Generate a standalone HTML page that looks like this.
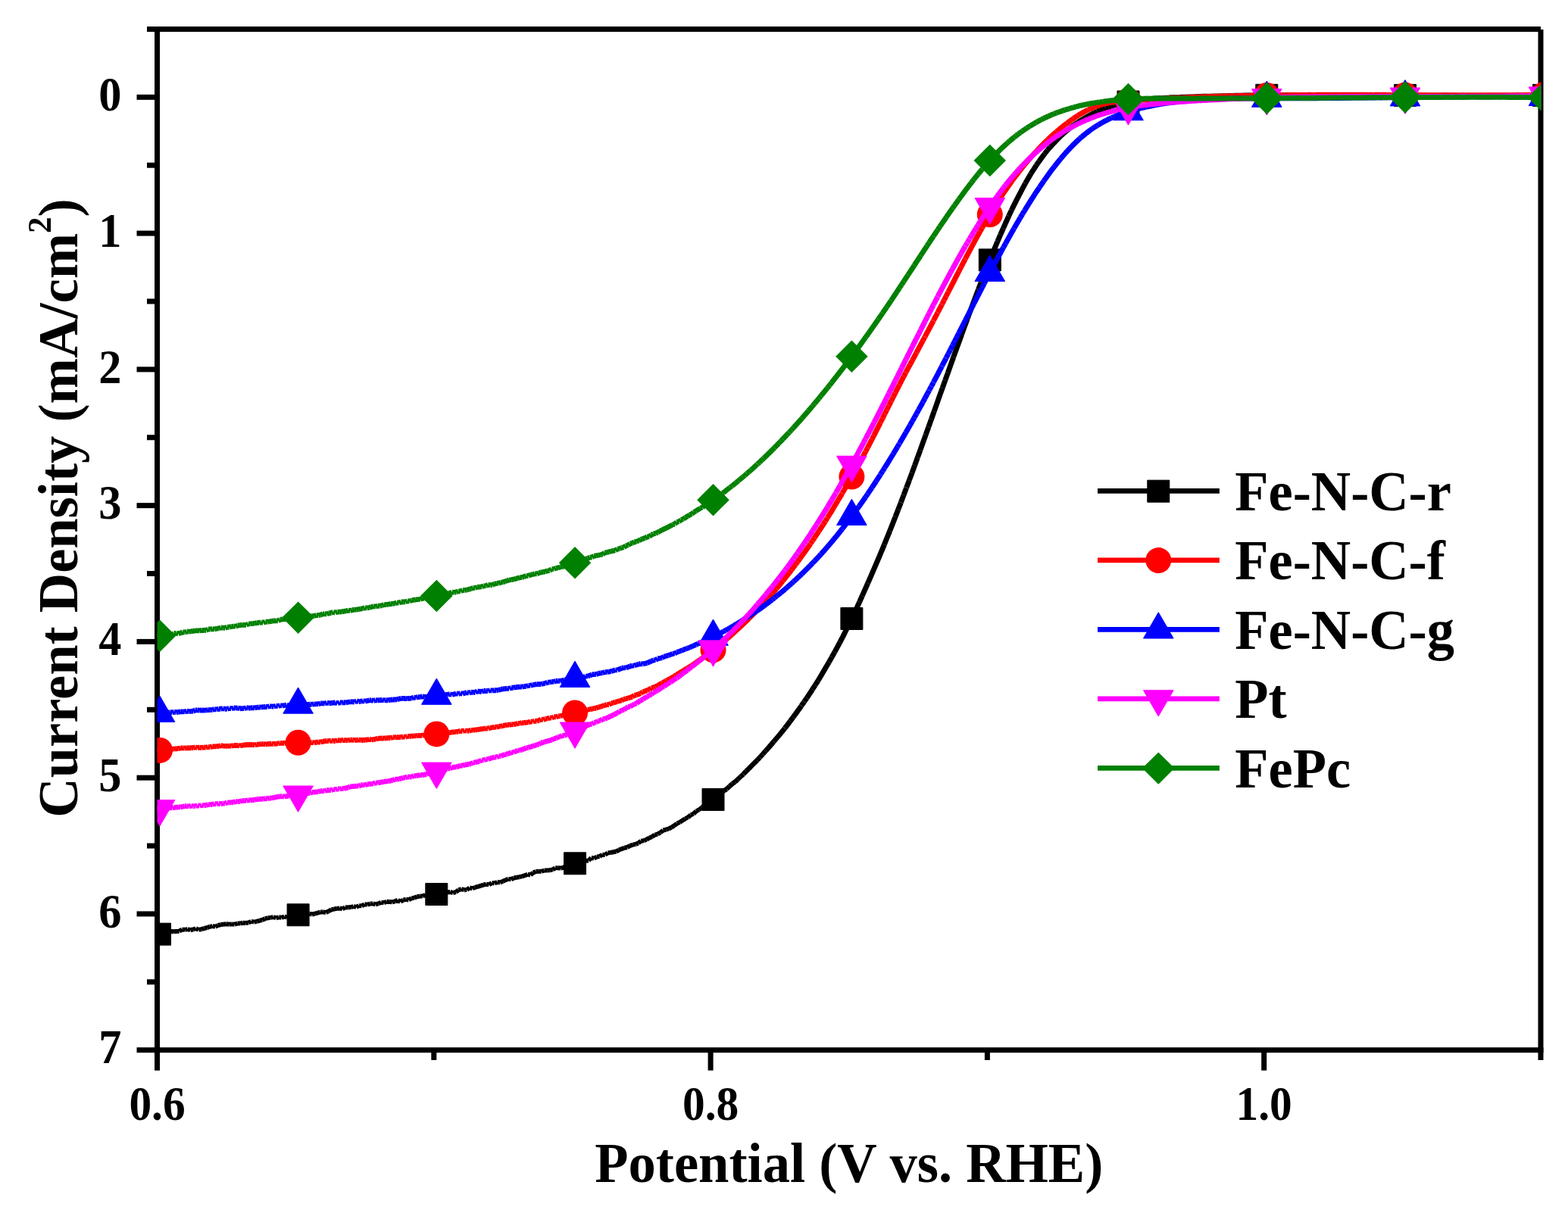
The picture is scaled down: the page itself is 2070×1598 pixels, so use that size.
<!DOCTYPE html>
<html><head><meta charset="utf-8"><title>LSV curves</title>
<style>html,body{margin:0;padding:0;background:#fff;width:2070px;height:1598px;overflow:hidden;}svg{display:block;position:absolute;left:0;top:0;}</style></head>
<body>
<svg width="2070" height="1598" viewBox="0 0 2070 1598" role="img" aria-label="Linear sweep voltammetry curves: current density versus potential">
<rect width="2070" height="1598" fill="#fff"/>
<defs><clipPath id="plot"><rect x="207.5" y="38.5" width="1827.1" height="1348.2"/></clipPath></defs>
<g stroke="#000" stroke-width="7" fill="none" stroke-linecap="butt">
<line x1="207.5" y1="35.0" x2="207.5" y2="1413.7"/>
<line x1="180.5" y1="1386.7" x2="2037.5" y2="1386.7"/>
<line x1="194" y1="38.5" x2="2034.0" y2="38.5"/>
<line x1="2034.0" y1="39.0" x2="2034.0" y2="1400"/>
<line x1="180.5" y1="128.35" x2="207.5" y2="128.35"/>
<line x1="194" y1="38.47" x2="207.5" y2="38.47"/>
<line x1="180.5" y1="308.11" x2="207.5" y2="308.11"/>
<line x1="194" y1="218.23" x2="207.5" y2="218.23"/>
<line x1="180.5" y1="487.88" x2="207.5" y2="487.88"/>
<line x1="194" y1="398.00" x2="207.5" y2="398.00"/>
<line x1="180.5" y1="667.64" x2="207.5" y2="667.64"/>
<line x1="194" y1="577.76" x2="207.5" y2="577.76"/>
<line x1="180.5" y1="847.41" x2="207.5" y2="847.41"/>
<line x1="194" y1="757.53" x2="207.5" y2="757.53"/>
<line x1="180.5" y1="1027.17" x2="207.5" y2="1027.17"/>
<line x1="194" y1="937.29" x2="207.5" y2="937.29"/>
<line x1="180.5" y1="1206.94" x2="207.5" y2="1206.94"/>
<line x1="194" y1="1117.05" x2="207.5" y2="1117.05"/>
<line x1="194" y1="1296.82" x2="207.5" y2="1296.82"/>
<line x1="938.10" y1="1386.7" x2="938.10" y2="1413.7"/>
<line x1="1668.70" y1="1386.7" x2="1668.70" y2="1413.7"/>
<line x1="572.80" y1="1386.7" x2="572.80" y2="1400"/>
<line x1="1303.40" y1="1386.7" x2="1303.40" y2="1400"/>
</g>
<g clip-path="url(#plot)">
<path d="M203.89 1233.81L207.46 1234.06M207.54 1234.07L211.11 1234.23M211.19 1234.21L214.76 1232.23M214.84 1232.21L218.41 1231.8M218.49 1231.8L222.06 1231.58M222.14 1231.57L225.71 1230.07M225.79 1230.06L229.36 1230.24M229.44 1230.24L233.01 1230.01M233.09 1230L236.66 1229.75M236.73 1229.73L240.32 1227.73M240.39 1227.71L243.96 1227.83M244.04 1227.82L247.61 1227.1M247.69 1227.11L251.26 1228.26M251.34 1228.26L254.91 1227.48M254.99 1227.46L258.56 1226.22M258.64 1226.22L262.21 1227.86M262.29 1227.87L265.86 1227.24M265.94 1227.22L269.51 1226.06M269.59 1226.04L273.16 1225.24M273.24 1225.22L276.81 1223.94M276.89 1223.92L280.46 1223.16M280.54 1223.16L284.11 1223.79M284.19 1223.78L287.76 1222.13M287.84 1222.1L291.41 1221.1M291.49 1221.09L295.06 1220.75M295.14 1220.74L298.71 1220.35M298.79 1220.35L302.36 1220.71M302.44 1220.71L306.01 1220.37M306.09 1220.37L309.66 1220.7M309.74 1220.69L313.31 1219.6M313.39 1219.59L316.96 1219.58M317.04 1219.57L320.61 1218.79M320.69 1218.79L324.26 1218.94M324.34 1218.93L327.91 1218.43M327.99 1218.41L331.56 1216.93M331.64 1216.93L335.21 1217.65M335.29 1217.65L338.86 1216.98M338.94 1216.96L342.51 1215.79M342.59 1215.77L346.16 1215M346.24 1214.97L349.81 1213.2M349.89 1213.17L353.46 1212.32M353.54 1212.3L357.11 1211.94M357.19 1211.93L360.76 1211.08M360.84 1211.08L364.41 1212.27M364.49 1212.27L368.06 1211.3M368.14 1211.29L371.71 1211.89M371.79 1211.89L375.36 1210.55M375.44 1210.54L379.01 1211.45M379.09 1211.45L382.66 1211.2M382.73 1211.18L386.32 1208.62M386.39 1208.6L389.96 1208.99M390.04 1209L393.61 1209.77M393.69 1209.77L397.26 1208.22M397.34 1208.21L400.91 1209.41M400.99 1209.4L404.56 1207.55M404.64 1207.52L408.21 1206.67M408.29 1206.67L411.86 1207.47M411.94 1207.47L415.51 1206.78M415.59 1206.76L419.16 1205.59M419.24 1205.57L422.81 1204.52M422.89 1204.51L426.46 1204.56M426.54 1204.56L430.11 1205.07M430.19 1205.06L433.76 1203.47M433.84 1203.44L437.41 1201.47M437.49 1201.44L441.06 1200.55M441.14 1200.54L444.71 1199.9M444.79 1199.89L448.36 1199.48M448.44 1199.48L452.01 1200.47M452.08 1200.46L455.67 1198.3M455.74 1198.28L459.31 1198.5M459.39 1198.5L462.96 1198.09M463.04 1198.07L466.61 1197.08M466.69 1197.07L470.26 1197.92M470.34 1197.91L473.91 1196.15M473.99 1196.14L477.56 1196.36M477.63 1196.34L481.22 1194.35M481.29 1194.34L484.86 1194.72M484.94 1194.71L488.51 1193.61M488.59 1193.59L492.16 1193.42M492.24 1193.43L495.81 1194.48M495.89 1194.48L499.46 1193.42M499.54 1193.39L503.11 1191.69M503.19 1191.68L506.76 1192.3M506.84 1192.3L510.41 1190.78M510.49 1190.77L514.06 1190.95M514.14 1190.95L517.71 1191.32M517.79 1191.31L521.36 1190.27M521.44 1190.25L525.01 1188.76M525.08 1188.76L528.67 1190.76M528.73 1190.76L532.32 1188.59M532.39 1188.56L535.96 1187.73M536.04 1187.73L539.61 1188.49M539.68 1188.48L543.27 1186.46M543.34 1186.43L546.91 1185.67M546.99 1185.64L550.56 1184.29M550.64 1184.27L554.21 1183.61M554.29 1183.6L557.86 1183.6M557.94 1183.58L561.51 1181.88M561.59 1181.87L565.16 1181.86M565.24 1181.86L568.81 1181.03M568.89 1181.02L572.46 1181.34M572.54 1181.35L576.11 1182.15M576.19 1182.14L579.76 1180.3M579.84 1180.28L583.41 1180.2M583.49 1180.2L587.06 1180.52M587.13 1180.5L590.72 1178.43M590.79 1178.4L594.36 1177.92M594.44 1177.92L598.01 1179.07M598.09 1179.07L601.66 1178.12M601.73 1178.09L605.32 1175.39M605.39 1175.35L608.96 1174.12M609.04 1174.12L612.61 1175.22M612.69 1175.23L616.26 1175.1M616.33 1175.08L619.92 1172.35M619.99 1172.33L623.56 1173.29M623.64 1173.29L627.21 1172.01M627.29 1171.98L630.86 1170.89M630.94 1170.87L634.51 1169.86M634.59 1169.83L638.16 1168.67M638.24 1168.65L641.81 1167.77M641.89 1167.77L645.46 1168.42M645.53 1168.41L649.12 1165.92M649.19 1165.91L652.76 1166.58M652.84 1166.57L656.41 1164.99M656.49 1164.98L660.06 1165.4M660.14 1165.39L663.71 1163.92M663.79 1163.89L667.36 1162.21M667.44 1162.18L671.01 1160.76M671.09 1160.75L674.66 1161.29M674.74 1161.28L678.31 1159.49M678.39 1159.47L681.96 1158.71M682.04 1158.7L685.61 1158.2M685.69 1158.18L689.26 1157.35M689.34 1157.33L692.91 1156.11M692.99 1156.08L696.56 1154.71M696.64 1154.7L700.21 1155.45M700.28 1155.43L703.87 1152.57M703.94 1152.53L707.51 1150.96M707.59 1150.94L711.16 1150.65M711.24 1150.65L714.81 1150.75M714.89 1150.74L718.46 1149.61M718.54 1149.6L722.11 1149.6M722.19 1149.6L725.76 1149.3M725.84 1149.28L729.41 1148.33M729.48 1148.3L733.07 1146.27M733.14 1146.25L736.71 1146.27M736.79 1146.27L740.36 1146.55M740.44 1146.55L744.01 1145.71M744.08 1145.68L747.67 1143.5M747.74 1143.47L751.31 1142.38M751.39 1142.36L754.96 1141.37M755.04 1141.34L758.61 1139.44M758.69 1139.41L762.26 1138.5M762.34 1138.48L765.91 1137.47M765.99 1137.46L769.56 1138.21M769.64 1138.2L773.21 1136.83M773.29 1136.81L776.86 1136.46M776.93 1136.43L780.52 1133.05M780.59 1133.03L784.16 1133.56M784.24 1133.54L787.81 1131.68M787.89 1131.66L791.46 1131.02M791.53 1131L795.12 1128.74M795.19 1128.72L798.76 1128.89M798.83 1128.87L802.42 1126.38M802.49 1126.35L806.06 1125.99M806.14 1125.98L809.71 1125.28M809.79 1125.27L813.36 1124.5M813.44 1124.47L817.01 1122.6M817.09 1122.57L820.66 1121.09M820.74 1121.06L824.31 1119.77M824.39 1119.75L827.96 1118.96M828.04 1118.93L831.61 1116.99M831.69 1116.95L835.26 1115.65M835.34 1115.63L838.91 1114.96M838.99 1114.93L842.56 1113.4M842.63 1113.36L846.22 1110.8M846.29 1110.77L849.86 1110.19M849.94 1110.17L853.51 1108.76M853.58 1108.72L857.17 1106.67M857.24 1106.64L860.81 1104.99M860.88 1104.96L864.47 1102.6M864.54 1102.56L868.11 1101.51M868.19 1101.48L871.76 1099.53M871.83 1099.48L875.42 1096.57M875.49 1096.54L879.06 1095.71M879.14 1095.69L882.71 1094.48M882.79 1094.45L886.36 1092.71M886.43 1092.68L890.02 1090.41M890.08 1090.36L893.67 1087.57M893.74 1087.53L897.31 1086.06M897.38 1086.02L900.97 1083.61M901.03 1083.57L904.62 1081.18M904.69 1081.14L908.26 1079.4M908.33 1079.36L911.92 1076.33M911.99 1076.29L915.56 1074.82M915.63 1074.78L919.22 1071.18M919.29 1071.14L922.86 1069.42M922.93 1069.38L926.52 1066.61" fill="none" stroke="#000000" stroke-width="6" stroke-linecap="butt"/>
<path d="M926.58 1066.56L930.17 1063.52M930.24 1063.47L933.81 1061.54M933.88 1061.5L937.47 1058.81M937.53 1058.77L941.12 1056.25M941.18 1056.2L944.77 1053.42M944.83 1053.37L948.42 1050.03M948.48 1049.98L952.07 1046.96M952.13 1046.91L955.72 1044.44" fill="none" stroke="#000000" stroke-width="6.2" stroke-linecap="butt"/>
<path d="M955.78 1044.39L959.37 1042.05M959.43 1042L963.02 1038.53M963.08 1038.47L966.67 1035.26M966.73 1035.21L970.32 1032.64M970.38 1032.59L973.97 1029.28M974.03 1029.22L977.62 1025.78M977.68 1025.72L981.27 1022.53" fill="none" stroke="#000000" stroke-width="6.4" stroke-linecap="butt"/>
<path d="M981.33 1022.48L984.92 1018.58M984.98 1018.52L988.57 1015.18M988.63 1015.12L992.22 1011.3M992.28 1011.24L995.87 1007.71M995.93 1007.65L999.52 1004.05M999.58 1003.99L1003.17 1000.2M1003.23 1000.14L1006.82 996.17M1006.88 996.11L1010.47 992.02" fill="none" stroke="#000000" stroke-width="6.6" stroke-linecap="butt"/>
<path d="M1010.53 991.96L1014.12 988.01M1014.18 987.95L1017.77 983.76M1017.83 983.7L1021.42 979.46M1021.48 979.4L1025.07 975.15M1025.13 975.09L1028.72 970.87M1028.78 970.81L1032.37 966.37M1032.42 966.31L1036.03 961.77" fill="none" stroke="#000000" stroke-width="6.8" stroke-linecap="butt"/>
<path d="M1036.07 961.71L1039.68 957.13M1039.72 957.06L1043.33 952.26M1043.37 952.19L1046.98 947.34M1047.02 947.27L1050.63 942.44M1050.67 942.37L1054.28 937.31M1054.32 937.25L1057.93 932.19M1057.97 932.12L1061.58 926.93M1061.62 926.86L1065.23 921.64M1065.27 921.58L1068.88 916.11M1068.92 916.04L1072.53 910.51M1072.57 910.44L1076.18 904.82M1076.22 904.75L1079.83 899.03M1079.87 898.96L1083.48 892.98M1083.52 892.91L1087.13 886.81M1087.17 886.74L1090.78 880.6M1090.82 880.53L1094.43 874.5M1094.47 874.43L1098.08 867.87M1098.12 867.8L1101.73 861.46M1101.77 861.39L1105.38 854.67M1105.42 854.6L1109.03 847.81M1109.07 847.74L1112.68 840.93M1112.72 840.86L1116.33 833.5M1116.37 833.43L1119.98 826.15M1120.02 826.08L1123.63 818.73M1123.67 818.65L1127.28 810.96M1127.32 810.89L1130.93 803.24M1130.97 803.17L1134.58 795.06M1134.62 794.99L1138.23 786.95M1138.27 786.88L1141.88 778.7M1141.92 778.63L1145.53 770.54M1145.57 770.47L1149.18 762.12M1149.22 762.05L1152.83 753.73M1152.87 753.65L1156.48 745.21M1156.52 745.14L1160.13 736.61M1160.17 736.53L1163.78 727.98M1163.82 727.9L1167.43 719.12M1167.46 719.04L1171.09 710.05M1171.12 709.97L1174.73 701.07M1174.76 701L1178.39 691.82M1178.41 691.75L1182.04 682.42M1182.06 682.35L1185.69 673.15M1185.71 673.08L1189.34 663.65M1189.36 663.58L1192.99 653.85M1193.01 653.78L1196.64 644.16M1196.66 644.09L1200.29 634.42M1200.31 634.35L1203.94 624.63M1203.96 624.56L1207.59 614.59M1207.61 614.52L1211.24 604.49M1211.26 604.42L1214.89 594.45M1214.91 594.37L1218.54 584.17M1218.56 584.1L1222.19 574.11M1222.21 574.03L1225.84 564.03M1225.86 563.96L1229.49 553.6M1229.51 553.52L1233.14 543.54M1233.16 543.46L1236.79 533.17M1236.81 533.09L1240.44 522.71M1240.46 522.64L1244.09 512.6M1244.11 512.52L1247.74 502.39M1247.76 502.31L1251.39 492.33M1251.41 492.25L1255.04 481.94M1255.06 481.86L1258.69 471.72M1258.71 471.64L1262.34 461.65M1262.36 461.58L1265.99 451.51M1266.01 451.43L1269.64 441.47M1269.66 441.4L1273.29 431.39M1273.31 431.32L1276.94 421.5M1276.96 421.42L1280.59 411.47M1280.61 411.4L1284.24 401.74M1284.26 401.67L1287.89 392.09M1287.91 392.01L1291.54 382.43M1291.56 382.35L1295.19 372.93M1295.21 372.85L1298.84 363.41M1298.86 363.33L1302.49 354.33M1302.51 354.26L1306.14 345.12M1306.16 345.04L1309.79 336.05M1309.82 335.98L1313.43 327.1M1313.47 327.03L1317.08 318.5M1317.12 318.43L1320.73 309.85M1320.77 309.78L1324.38 301.71M1324.42 301.63L1328.03 293.55M1328.07 293.48L1331.68 285.41M1331.72 285.33L1335.33 277.61M1335.37 277.54L1338.98 270.16M1339.02 270.08L1342.63 262.92M1342.67 262.85L1346.28 255.88M1346.32 255.81L1349.93 248.89M1349.97 248.82L1353.58 242.08M1353.62 242.01L1357.23 235.85M1357.27 235.79L1360.88 229.48M1360.92 229.42L1364.53 223.88M1364.57 223.82L1368.18 218.1M1368.22 218.03L1371.83 212.9M1371.87 212.84L1375.48 207.94M1375.52 207.88L1379.13 202.96M1379.17 202.89L1382.78 198.37M1382.83 198.31L1386.42 194.17M1386.48 194.11L1390.07 190.14M1390.13 190.08L1393.72 186.28M1393.78 186.22L1397.37 182.48M1397.43 182.43L1401.02 179.03M1401.08 178.98L1404.67 175.56M1404.73 175.51L1408.32 172.6M1408.38 172.54L1411.97 169.42M1412.03 169.37L1415.62 166.66M1415.68 166.61L1419.27 164.09M1419.33 164.05L1422.92 161.53M1422.98 161.49L1426.57 159.26M1426.63 159.22L1430.22 156.95M1430.28 156.9L1433.87 154.81M1433.94 154.77L1437.51 152.85M1437.59 152.82L1441.16 150.87M1441.24 150.83L1444.81 148.97M1444.89 148.94L1448.46 147.32M1448.54 147.29L1452.11 145.77M1452.19 145.74L1455.76 144.29M1455.84 144.26L1459.41 142.71M1459.49 142.68L1463.06 141.59M1463.14 141.57L1466.71 140.43M1466.79 140.4L1470.36 139.21M1470.44 139.18L1474.01 138.14M1474.09 138.11L1477.66 137.02M1477.74 137L1481.31 136.18M1481.39 136.16L1484.96 135.4M1485.04 135.39L1488.61 134.75M1488.69 134.73L1492.26 133.88M1492.34 133.87L1495.91 133.56M1495.99 133.54L1499.56 132.82M1499.64 132.8L1503.21 132.24M1503.29 132.23L1506.86 131.88M1506.94 131.87L1510.51 131.38M1510.59 131.38L1514.16 131.04M1514.24 131.03L1517.81 130.76M1517.89 130.75L1521.46 130.22M1521.54 130.21L1525.11 130.04M1525.19 130.03L1528.76 129.78M1528.84 129.77L1532.41 129.72M1532.49 129.72L1536.06 129.55M1536.14 129.55L1539.71 129.2M1539.79 129.2L1543.36 129.09M1543.44 129.09L1547.01 128.85M1547.09 128.85L1550.66 128.78M1550.74 128.78L1554.31 128.72M1554.39 128.71L1557.96 128.61M1558.04 128.6L1561.61 128.33M1561.69 128.33L1565.26 128.15M1565.34 128.14L1568.91 127.97M1568.99 127.97L1572.56 127.98M1572.64 127.98L1576.21 127.95M1576.29 127.94L1579.86 127.54M1579.94 127.53L1583.51 127.62M1583.59 127.62L1587.16 127.34M1587.24 127.33L1590.81 127.32M1590.89 127.32L1594.46 127.19M1594.54 127.19L1598.11 127.24M1598.19 127.24L1601.76 127.05M1601.84 127.05L1605.41 126.96M1605.49 126.96L1609.06 126.98M1609.14 126.98L1612.71 126.78M1612.79 126.78L1616.36 126.86M1616.44 126.86L1620.01 126.62M1620.09 126.62L1623.66 126.61M1623.74 126.61L1627.31 126.46M1627.39 126.46L1630.96 126.36M1631.04 126.35L1634.61 126.37M1634.69 126.37L1638.26 126.23M1638.34 126.22L1641.91 126.12M1641.99 126.12L1645.56 126.09M1645.64 126.09L1649.21 126.06M1649.29 126.06L1652.86 125.88M1652.94 125.88L1656.51 125.82M1656.59 125.82L1660.16 125.95M1660.24 125.96L1663.81 125.96M1663.89 125.96L1667.46 125.88M1667.54 125.88L1671.11 125.96M1671.19 125.96L1674.76 125.84M1674.84 125.84L1678.41 125.88M1678.49 125.88L1682.06 125.68M1682.14 125.68L1685.71 125.77M1685.79 125.77L1689.36 125.83M1689.44 125.83L1693.01 125.82M1693.09 125.82L1696.66 125.61M1696.74 125.6L1700.31 125.54M1700.39 125.54L1703.96 125.7M1704.04 125.7L1707.61 125.54M1707.69 125.54L1711.26 125.68M1711.34 125.68L1714.91 125.66M1714.99 125.66L1718.56 125.5M1718.64 125.5L1722.21 125.51M1722.29 125.51L1725.86 125.6M1725.94 125.6L1729.51 125.42M1729.59 125.42L1733.16 125.45M1733.24 125.45L1736.81 125.68M1736.89 125.68L1740.46 125.58M1740.54 125.58L1744.11 125.75M1744.19 125.75L1747.76 125.54M1747.84 125.53L1751.41 125.56M1751.49 125.56L1755.06 125.56M1755.14 125.56L1758.71 125.42M1758.79 125.42L1762.36 125.56M1762.44 125.56L1766.01 125.67M1766.09 125.67L1769.66 125.7M1769.74 125.7L1773.31 125.71M1773.39 125.7L1776.96 125.46M1777.04 125.46L1780.61 125.54M1780.69 125.54L1784.26 125.61M1784.34 125.61L1787.91 125.58M1787.99 125.58L1791.56 125.68M1791.64 125.67L1795.21 125.47M1795.29 125.47L1798.86 125.49M1798.94 125.49L1802.51 125.58M1802.59 125.58L1806.16 125.61M1806.24 125.62L1809.81 125.8M1809.89 125.81L1813.46 125.89M1813.54 125.9L1817.11 125.91M1817.19 125.91L1820.76 125.84M1820.84 125.84L1824.41 125.79M1824.49 125.79L1828.06 125.83M1828.14 125.83L1831.71 126.07M1831.79 126.08L1835.36 126.04M1835.44 126.04L1839.01 126M1839.09 126L1842.66 125.72M1842.74 125.72L1846.31 125.72M1846.39 125.73L1849.96 126.06M1850.04 126.06L1853.61 125.94M1853.69 125.94L1857.26 126.12M1857.34 126.12L1860.91 126.03M1860.99 126.03L1864.56 126.06M1864.64 126.06L1868.21 126.15M1868.29 126.15L1871.86 126.11M1871.94 126.11L1875.51 126.2M1875.59 126.2L1879.16 126.02M1879.24 126.02L1882.81 126.21M1882.89 126.21L1886.46 126.29M1886.54 126.29L1890.11 126.13M1890.19 126.13L1893.76 126.22M1893.84 126.22L1897.41 126.27M1897.49 126.27L1901.06 126.16M1901.14 126.16L1904.71 126.11M1904.79 126.11L1908.36 126.09M1908.44 126.09L1912.01 126.18M1912.09 126.18L1915.66 126.06M1915.74 126.06L1919.31 126.32M1919.39 126.32L1922.96 126.24M1923.04 126.24L1926.61 126.23M1926.69 126.24L1930.26 126.33M1930.34 126.33L1933.91 126.31M1933.99 126.31L1937.56 126.3M1937.64 126.3L1941.21 126.39M1941.29 126.39L1944.86 126.39M1944.94 126.39L1948.51 126.48M1948.59 126.48L1952.16 126.43M1952.24 126.43L1955.81 126.26M1955.89 126.26L1959.46 126.42M1959.54 126.42L1963.11 126.34M1963.19 126.34L1966.76 126.32M1966.84 126.32L1970.41 126.3M1970.49 126.3L1974.06 126.18M1974.14 126.18L1977.71 126.35M1977.79 126.36L1981.36 126.35M1981.44 126.35L1985.01 126.27M1985.09 126.27L1988.66 126.3M1988.74 126.3L1992.31 126.27M1992.39 126.27L1995.96 126.13M1996.04 126.13L1999.61 126.2M1999.69 126.2L2003.26 125.97M2003.34 125.96L2006.91 125.94M2006.99 125.94L2010.56 125.92M2010.64 125.92L2014.21 125.81M2014.29 125.81L2017.86 125.86M2017.94 125.86L2021.51 125.87M2021.59 125.88L2025.16 125.88M2025.24 125.88L2028.81 125.77M2028.89 125.77L2032.46 125.93M2032.54 125.93L2036.11 125.86M2036.19 125.86L2039.76 125.83" fill="none" stroke="#000000" stroke-width="7" stroke-linecap="butt"/>
<rect x="196.5" y="1219.2" width="29" height="29" fill="#000000" stroke="#000000" stroke-width="1" stroke-linejoin="round"/>
<rect x="379.1" y="1193.8" width="29" height="29" fill="#000000" stroke="#000000" stroke-width="1" stroke-linejoin="round"/>
<rect x="561.8" y="1166.5" width="29" height="29" fill="#000000" stroke="#000000" stroke-width="1" stroke-linejoin="round"/>
<rect x="744.5" y="1125.8" width="29" height="29" fill="#000000" stroke="#000000" stroke-width="1" stroke-linejoin="round"/>
<rect x="927" y="1041.4" width="29" height="29" fill="#000000" stroke="#000000" stroke-width="1" stroke-linejoin="round"/>
<rect x="1109.9" y="802.5" width="29" height="29" fill="#000000" stroke="#000000" stroke-width="1" stroke-linejoin="round"/>
<rect x="1292.3" y="328.9" width="29" height="29" fill="#000000" stroke="#000000" stroke-width="1" stroke-linejoin="round"/>
<rect x="1475" y="120" width="29" height="29" fill="#000000" stroke="#000000" stroke-width="1" stroke-linejoin="round"/>
<rect x="1657.8" y="111.3" width="29" height="29" fill="#000000" stroke="#000000" stroke-width="1" stroke-linejoin="round"/>
<rect x="1840.5" y="111.4" width="29" height="29" fill="#000000" stroke="#000000" stroke-width="1" stroke-linejoin="round"/>
<rect x="2023.5" y="111.4" width="29" height="29" fill="#000000" stroke="#000000" stroke-width="1" stroke-linejoin="round"/>
<path d="M204.74 991.84L207.46 991.85M207.54 991.84L210.26 991.58M210.34 991.57L213.06 990.66M213.14 990.64L215.86 990.71M215.94 990.71L218.66 990.3M218.74 990.29L221.46 989.95M221.54 989.93L224.26 989.22M224.34 989.21L227.06 989.04M227.14 989.04L229.86 989.09M229.94 989.09L232.66 988.74M232.74 988.74L235.46 988.6M235.54 988.59L238.26 987.93M238.34 987.92L241.06 987.9M241.14 987.91L243.86 988.23M243.94 988.23L246.66 987.86M246.74 987.86L249.46 987.69M249.54 987.69L252.26 987.77M252.34 987.77L255.06 987.48M255.14 987.47L257.86 986.89M257.94 986.89L260.66 987.48M260.74 987.49L263.46 987.23M263.54 987.23L266.26 987.37M266.34 987.37L269.06 987.01M269.14 987.01L271.86 987.16M271.94 987.15L274.66 986.46M274.74 986.45L277.46 986.65M277.54 986.64L280.26 985.91M280.34 985.9L283.06 985.9M283.14 985.9L285.86 985.88M285.94 985.87L288.66 985.35M288.74 985.33L291.46 984.72M291.54 984.72L294.26 985.15M294.34 985.16L297.06 985.34M297.14 985.35L299.86 985.31M299.94 985.31L302.66 985.05M302.74 985.05L305.46 985.12M305.54 985.12L308.26 984.54M308.34 984.53L311.06 984.45M311.14 984.45L313.86 984.48M313.94 984.48L316.66 984.95M316.74 984.95L319.46 984.31M319.54 984.29L322.26 983.98M322.34 983.97L325.06 983.74M325.14 983.73L327.86 983.48M327.94 983.48L330.66 983.49M330.74 983.5L333.46 983.68M333.54 983.69L336.26 983.88M336.34 983.88L339.06 983.21M339.14 983.2L341.86 983.05M341.94 983.04L344.66 982.7M344.74 982.7L347.46 982.71M347.54 982.71L350.26 982.93M350.34 982.93L353.06 982.71M353.14 982.7L355.86 982.39M355.94 982.39L358.66 982.12M358.74 982.12L361.46 982.53M361.54 982.53L364.26 982.18M364.34 982.18L367.06 982.09M367.14 982.08L369.86 981.37M369.94 981.36L372.66 981.41M372.74 981.42L375.46 981.66M375.54 981.66L378.26 981.05M378.34 981.04L381.06 981.17M381.14 981.16L383.86 980.37M383.94 980.37L386.66 980.92M386.74 980.91L389.46 979.77M389.54 979.76L392.26 980.24M392.34 980.24L395.06 979.8M395.14 979.8L397.86 980.5M397.94 980.51L400.66 980.41M400.74 980.41L403.46 980.74M403.54 980.74L406.26 980.65M406.34 980.65L409.06 980.72M409.14 980.72L411.86 980.39M411.94 980.39L414.66 980.98M414.74 980.98L417.46 980.46M417.54 980.44L420.26 979.91M420.34 979.9L423.06 980.03M423.14 980.03L425.86 979.37M425.94 979.35L428.66 978.93M428.74 978.92L431.46 978.45M431.54 978.45L434.26 978.71M434.34 978.71L437.06 978.18M437.14 978.19L439.86 978.75M439.94 978.76L442.66 978.57M442.74 978.56L445.46 977.62M445.54 977.61L448.26 977.8M448.34 977.8L451.06 977.93M451.14 977.93L453.86 977.31M453.94 977.31L456.66 977.68M456.74 977.68L459.46 977.78M459.54 977.77L462.26 977.13M462.34 977.12L465.06 977.16M465.14 977.17L467.86 977.69M467.94 977.69L470.66 977.31M470.74 977.3L473.46 977.01M473.54 977.01L476.26 977.45M476.34 977.46L479.06 977.52M479.14 977.52L481.86 977.4M481.94 977.39L484.66 976.93M484.74 976.92L487.46 976.49M487.54 976.49L490.26 976.83M490.34 976.83L493.06 976.59M493.14 976.58L495.86 976.12M495.94 976.1L498.66 975.32M498.74 975.31L501.46 975.12M501.54 975.11L504.26 974.88M504.34 974.88L507.06 975.03M507.14 975.02L509.86 974.74M509.94 974.73L512.66 974.71M512.74 974.7L515.46 974.51M515.54 974.49L518.26 973.64M518.34 973.63L521.06 973.89M521.14 973.89L523.86 973.59M523.94 973.58L526.66 973.54M526.74 973.54L529.46 973.62M529.54 973.61L532.26 972.9M532.34 972.9L535.06 973.32M535.14 973.32L537.86 972.32M537.94 972.31L540.66 972.39M540.74 972.39L543.46 972.24M543.54 972.24L546.26 971.87M546.34 971.86L549.06 971.86M549.14 971.85L551.86 971.45M551.94 971.45L554.66 971.4M554.74 971.4L557.46 971.47M557.54 971.46L560.26 970.57M560.34 970.56L563.06 970.61M563.14 970.61L565.86 970.82M565.94 970.81L568.66 969.83M568.74 969.83L571.46 970.33M571.54 970.32L574.26 969.54M574.34 969.54L577.06 969.75M577.14 969.74L579.86 968.79M579.94 968.78L582.66 968.84M582.74 968.83L585.46 968.39M585.54 968.37L588.26 967.52M588.34 967.51L591.06 967.71M591.14 967.71L593.86 967.31M593.94 967.3L596.66 967.06M596.74 967.05L599.46 966.55M599.54 966.54L602.26 966.37M602.34 966.36L605.06 966.02M605.14 966.01L607.86 965.28M607.94 965.28L610.66 965.6M610.74 965.59L613.46 964.74M613.54 964.74L616.26 965.4M616.34 965.41L619.06 965.14M619.14 965.13L621.86 964.29M621.94 964.28L624.66 964.2M624.74 964.19L627.46 963.91M627.54 963.9L630.26 963.54M630.34 963.52L633.06 963.04M633.14 963.02L635.86 962.62M635.94 962.61L638.66 962.26M638.74 962.25L641.46 961.79M641.54 961.79L644.26 962.02M644.34 962.01L647.06 961.15M647.14 961.14L649.86 960.81M649.94 960.79L652.66 960.26M652.74 960.25L655.46 960.22M655.54 960.21L658.26 959.5M658.34 959.49L661.06 959.21M661.14 959.19L663.86 958.39M663.94 958.38L666.66 957.96M666.74 957.94L669.46 957.27M669.54 957.26L672.26 957.1M672.34 957.09L675.06 956.76M675.14 956.76L677.86 956.91M677.94 956.9L680.66 956.21M680.74 956.19L683.46 955.31M683.54 955.3L686.26 955.33M686.34 955.32L689.06 954.61M689.14 954.6L691.86 954.61M691.94 954.6L694.66 954.18M694.74 954.17L697.46 953.98M697.54 953.97L700.26 952.98M700.34 952.97L703.06 953.16M703.14 953.15L705.86 952.13M705.94 952.11L708.66 952.28M708.74 952.27L711.46 951.48M711.54 951.46L714.26 950.21M714.34 950.2L717.06 950.49M717.14 950.48L719.86 949.39M719.94 949.37L722.66 949M722.74 948.98L725.46 948.03M725.54 948.02L728.26 948.2M728.34 948.19L731.06 946.76M731.14 946.74L733.86 946.76M733.94 946.75L736.66 945.93M736.74 945.92L739.46 945.77M739.54 945.75L742.26 944.88M742.34 944.86L745.06 943.89M745.14 943.88L747.86 944.16M747.94 944.15L750.66 943.52M750.74 943.49L753.46 942.38M753.54 942.37L756.26 942.51M756.34 942.5L759.06 941.92M759.14 941.9L761.86 940.41M761.94 940.38L764.66 939.74M764.74 939.72L767.46 939.52M767.54 939.5L770.26 938.41M770.34 938.4L773.06 938.34M773.14 938.33L775.86 937.29M775.94 937.27L778.66 936.77M778.74 936.76L781.46 936.09M781.54 936.08L784.26 935.69M784.34 935.68L787.06 935.08M787.14 935.06L789.86 934.06M789.94 934.04L792.66 933.35M792.74 933.32L795.46 932.47M795.54 932.45L798.26 931.39M798.34 931.36L801.06 930.66M801.14 930.65L803.86 930.52M803.94 930.5L806.66 929M806.74 928.97L809.46 928.3M809.54 928.27L812.26 927.27M812.34 927.25L815.06 926.59M815.14 926.56L817.86 925.64M817.94 925.62L820.66 924.92M820.74 924.9L823.46 923.54M823.54 923.51L826.26 922.66M826.34 922.64L829.06 922.1M829.14 922.08L831.86 921.22M831.94 921.2L834.66 920.23M834.73 920.2L837.47 918.47M837.54 918.44L840.26 917.83M840.34 917.81L843.06 916.74M843.14 916.71L845.86 915.79M845.93 915.76L848.67 913.8M848.74 913.76L851.46 912.69M851.54 912.67L854.26 911.74M854.34 911.71L857.06 910.47M857.13 910.43L859.87 908.48M859.94 908.45L862.66 907.81M862.74 907.78L865.46 906.86M865.54 906.83L868.26 905.43M868.33 905.39L871.07 903.78M871.13 903.74L873.87 902.06M873.94 902.03L876.66 900.73M876.73 900.69L879.47 898.91M879.54 898.87L882.26 897.65M882.33 897.61L885.07 896.1M885.14 896.06L887.86 894.62M887.93 894.58L890.67 892.78M890.73 892.74L893.47 891.01M893.53 890.97L896.27 889.19M896.33 889.15L899.07 887.56M899.13 887.52L901.87 885.91M901.93 885.87L904.67 884.08M904.73 884.04L907.47 882.1M907.54 882.06L910.26 880.76M910.33 880.72L913.07 878.74M913.13 878.7L915.87 877.14M915.93 877.1L918.67 875.02M918.73 874.97L921.47 873.07M921.53 873.02L924.27 871.01M924.33 870.97L927.07 869.29M927.13 869.24L929.87 867.34M929.93 867.29L932.67 865.26M932.73 865.21L935.47 862.93M935.53 862.88L938.27 860.65M938.33 860.6L941.07 858.35M941.13 858.31L943.87 856.53M943.93 856.49L946.67 854.14M946.73 854.09L949.47 851.83M949.53 851.78L952.27 849.46M952.33 849.41L955.07 847.23M955.13 847.19L957.87 845.06M957.93 845.01L960.67 842.95M960.73 842.9L963.47 840.52M963.53 840.47L966.27 838.07M966.33 838.02L969.07 835.58M969.13 835.52L971.87 832.91M971.93 832.86L974.67 830.3M974.73 830.25L977.47 827.81M977.53 827.76L980.27 825.05M980.33 824.99L983.07 822.57M983.13 822.52L985.87 819.84M985.93 819.79L988.67 817.08M988.73 817.02L991.47 814.13M991.53 814.07L994.27 811.31M994.33 811.25L997.07 808.51M997.13 808.45L999.87 805.55" fill="none" stroke="#ff0000" stroke-width="6.8" stroke-linecap="butt"/>
<path d="M999.93 805.49L1002.67 802.64M1002.73 802.59L1005.47 799.56M1005.53 799.51L1008.27 796.54M1008.33 796.48L1011.07 793.47M1011.13 793.41L1013.87 790.31M1013.93 790.25L1016.67 787.14M1016.73 787.08L1019.47 783.87M1019.53 783.81L1022.27 780.65M1022.33 780.59L1025.07 777.43M1025.13 777.37L1027.87 773.98M1027.93 773.92L1030.67 770.59M1030.73 770.52L1033.47 767.18M1033.52 767.11L1036.28 763.67M1036.32 763.61L1039.08 760.18M1039.12 760.11L1041.88 756.55M1041.92 756.49L1044.68 752.99M1044.72 752.93L1047.48 749.19M1047.52 749.13L1050.28 745.56M1050.32 745.49L1053.08 741.79M1053.12 741.73L1055.88 738.04M1055.92 737.97L1058.68 734.08M1058.72 734.01L1061.48 730.23M1061.52 730.17L1064.28 726.3M1064.32 726.24L1067.08 722.27M1067.12 722.2L1069.88 718.17M1069.92 718.1L1072.68 714.17M1072.72 714.1L1075.48 710.02M1075.52 709.95L1078.28 705.71M1078.32 705.64L1081.08 701.53M1081.12 701.47L1083.88 697.16M1083.92 697.09L1086.68 692.81M1086.72 692.74L1089.48 688.49M1089.52 688.43L1092.28 684.01M1092.32 683.94L1095.08 679.52M1095.12 679.45L1097.88 674.9M1097.92 674.83L1100.68 670.29M1100.72 670.22L1103.48 665.58M1103.52 665.51L1106.28 660.89M1106.32 660.82L1109.08 656.21M1109.12 656.14L1111.88 651.39M1111.92 651.32L1114.68 646.59M1114.72 646.52L1117.48 641.67M1117.52 641.6L1120.28 636.85M1120.32 636.78L1123.08 631.94M1123.12 631.87L1125.88 626.93M1125.92 626.86L1128.68 622.06M1128.72 621.99L1131.48 617M1131.52 616.93L1134.28 611.9M1134.32 611.83L1137.08 606.77M1137.12 606.7L1139.88 601.64M1139.92 601.57L1142.68 596.31M1142.72 596.24L1145.48 591.1M1145.52 591.03L1148.28 585.6M1148.32 585.53L1151.08 580.25M1151.12 580.18L1153.88 574.77M1153.92 574.69L1156.68 569.18M1156.72 569.11L1159.48 563.64M1159.52 563.57L1162.28 558.1M1162.32 558.03L1165.08 552.5M1165.12 552.42L1167.88 546.85M1167.92 546.78L1170.68 541.32M1170.72 541.25L1173.48 535.68M1173.52 535.61L1176.28 530.08M1176.32 530.01L1179.08 524.48M1179.12 524.41L1181.88 519M1181.92 518.93L1184.68 513.42M1184.72 513.35L1187.48 507.99M1187.52 507.92L1190.28 502.45M1190.32 502.38L1193.08 497.08M1193.12 497.01L1195.88 491.79M1195.92 491.72L1198.68 486.49M1198.72 486.42L1201.48 481.31M1201.52 481.24L1204.28 476.04M1204.32 475.97L1207.08 470.91M1207.12 470.84L1209.88 465.73M1209.92 465.66L1212.68 460.41M1212.72 460.34L1215.48 455.2M1215.52 455.13L1218.28 450.02M1218.32 449.94L1221.08 444.81M1221.12 444.74L1223.88 439.48M1223.92 439.41L1226.68 434.15M1226.72 434.08L1229.48 428.83M1229.52 428.76L1232.28 423.52M1232.32 423.45L1235.08 418.12M1235.12 418.05L1237.88 412.77M1237.92 412.69L1240.68 407.38M1240.72 407.31L1243.48 402.01M1243.52 401.94L1246.28 396.54M1246.32 396.47L1249.08 391.07M1249.12 391L1251.88 385.52M1251.92 385.45L1254.68 380.1M1254.72 380.03L1257.48 374.66M1257.52 374.59L1260.28 369.16M1260.32 369.09L1263.08 363.71M1263.12 363.64L1265.88 358.24M1265.92 358.17L1268.68 352.72M1268.72 352.65L1271.48 347.37M1271.52 347.3L1274.28 342.01M1274.32 341.94L1277.08 336.67M1277.12 336.6L1279.88 331.38M1279.92 331.31L1282.68 326.17M1282.72 326.1L1285.48 320.95M1285.52 320.87L1288.28 315.72M1288.32 315.65L1291.08 310.65M1291.12 310.58L1293.88 305.62M1293.92 305.55L1296.68 300.7M1296.72 300.63L1299.48 295.75M1299.52 295.68L1302.28 290.87M1302.32 290.8L1305.08 286.15M1305.12 286.08L1307.88 281.42M1307.92 281.35L1310.68 276.79M1310.72 276.72L1313.48 272.35M1313.52 272.28L1316.28 267.96M1316.32 267.9L1319.08 263.59M1319.12 263.52L1321.88 259.3M1321.92 259.23L1324.68 255.02M1324.72 254.95L1327.48 250.97M1327.52 250.9L1330.28 246.96M1330.32 246.9L1333.08 243.02M1333.12 242.96L1335.88 239.11M1335.92 239.05L1338.68 235.26M1338.72 235.19L1341.48 231.61M1341.52 231.54L1344.28 227.87M1344.32 227.81L1347.08 224.36M1347.12 224.3L1349.88 220.84M1349.93 220.78L1352.67 217.44M1352.73 217.38L1355.47 214.03M1355.53 213.97L1358.27 210.72M1358.33 210.66L1361.07 207.57M1361.13 207.51L1363.87 204.41M1363.93 204.35L1366.67 201.38M1366.73 201.32L1369.47 198.32M1369.53 198.26L1372.27 195.39M1372.33 195.33L1375.07 192.46M1375.13 192.4L1377.87 189.67M1377.93 189.61L1380.67 186.82M1380.73 186.77L1383.47 184.21M1383.53 184.16L1386.27 181.56M1386.33 181.5L1389.07 178.89M1389.13 178.83L1391.87 176.48M1391.93 176.43L1394.67 174.03M1394.73 173.98L1397.47 171.62M1397.53 171.56L1400.27 169.21M1400.33 169.15L1403.07 167.01M1403.13 166.96L1405.87 164.82M1405.93 164.77L1408.67 162.64M1408.73 162.59L1411.47 160.6M1411.53 160.55L1414.27 158.56M1414.33 158.52L1417.07 156.57M1417.13 156.53L1419.87 154.7M1419.93 154.65L1422.67 152.81M1422.73 152.76L1425.47 151.11M1425.53 151.07L1428.27 149.47M1428.33 149.43L1431.07 147.89M1431.14 147.85L1433.86 146.46M1433.94 146.42L1436.66 145M1436.74 144.96L1439.46 143.66M1439.54 143.63L1442.26 142.43M1442.34 142.4L1445.06 141.35M1445.14 141.33L1447.86 140.24M1447.94 140.21L1450.66 139.31M1450.74 139.28L1453.46 138.44M1453.54 138.41L1456.26 137.64M1456.34 137.62L1459.06 136.94M1459.14 136.92L1461.86 136.33M1461.94 136.31L1464.66 135.77M1464.74 135.76L1467.46 135.34M1467.54 135.33L1470.26 134.92M1470.34 134.91L1473.06 134.55M1473.14 134.54L1475.86 134.28M1475.94 134.28L1478.66 133.99M1478.74 133.98L1481.46 133.81M1481.54 133.8L1484.26 133.55M1484.34 133.54L1487.06 133.31M1487.14 133.31L1489.86 133.15M1489.94 133.15L1492.66 132.89M1492.74 132.88L1495.46 132.68M1495.54 132.67L1498.26 132.56M1498.34 132.55L1501.06 132.33M1501.14 132.32L1503.86 132.25M1503.94 132.24L1506.66 132.01M1506.74 132L1509.46 131.91M1509.54 131.9L1512.26 131.64M1512.34 131.64L1515.06 131.45M1515.14 131.45L1517.86 131.33M1517.94 131.33L1520.66 131.16M1520.74 131.16L1523.46 130.91M1523.54 130.9L1526.26 130.83M1526.34 130.82L1529.06 130.64M1529.14 130.64L1531.86 130.46M1531.94 130.45L1534.66 130.31M1534.74 130.31L1537.46 130.17M1537.54 130.17L1540.26 129.93M1540.34 129.93L1543.06 129.87M1543.14 129.87L1545.86 129.75M1545.94 129.74L1548.66 129.61M1548.74 129.6L1551.46 129.41M1551.54 129.41L1554.26 129.32M1554.34 129.31L1557.06 129.19M1557.14 129.19L1559.86 129.13M1559.94 129.12L1562.66 128.9M1562.74 128.9L1565.46 128.8M1565.54 128.8L1568.26 128.66M1568.34 128.66L1571.06 128.59M1571.14 128.59L1573.86 128.41M1573.94 128.4L1576.66 128.27M1576.74 128.27L1579.46 128.16M1579.54 128.16L1582.26 128.07M1582.34 128.07L1585.06 128.01M1585.14 128L1587.86 127.95M1587.94 127.95L1590.66 127.8M1590.74 127.8L1593.46 127.69M1593.54 127.69L1596.26 127.66M1596.34 127.66L1599.06 127.54M1599.14 127.54L1601.86 127.5M1601.94 127.49L1604.66 127.44M1604.74 127.44L1607.46 127.29M1607.54 127.29L1610.26 127.24M1610.34 127.24L1613.06 127.14M1613.14 127.14L1615.86 127.07M1615.94 127.07L1618.66 126.99M1618.74 126.99L1621.46 126.92M1621.54 126.92L1624.26 126.84M1624.34 126.84L1627.06 126.7M1627.14 126.7L1629.86 126.65M1629.94 126.65L1632.66 126.64M1632.74 126.63L1635.46 126.56M1635.54 126.56L1638.26 126.5M1638.34 126.5L1641.06 126.48M1641.14 126.47L1643.86 126.4M1643.94 126.4L1646.66 126.3M1646.74 126.29L1649.46 126.27M1649.54 126.26L1652.26 126.15M1652.34 126.15L1655.06 126.13M1655.14 126.13L1657.86 126.11M1657.94 126.11L1660.66 126.08M1660.74 126.08L1663.46 126.02M1663.54 126.02L1666.26 125.96M1666.34 125.96L1669.06 125.9M1669.14 125.9L1671.86 125.93M1671.94 125.93L1674.66 125.84M1674.74 125.83L1677.46 125.74M1677.54 125.74L1680.26 125.7M1680.34 125.7L1683.06 125.77M1683.14 125.77L1685.86 125.71M1685.94 125.71L1688.66 125.65M1688.74 125.65L1691.46 125.68M1691.54 125.68L1694.26 125.6M1694.34 125.6L1697.06 125.62M1697.14 125.63L1699.86 125.62M1699.94 125.62L1702.66 125.54M1702.74 125.54L1705.46 125.54M1705.54 125.54L1708.26 125.48M1708.34 125.48L1711.06 125.52M1711.14 125.52L1713.86 125.47M1713.94 125.47L1716.66 125.51M1716.74 125.51L1719.46 125.42M1719.54 125.42L1722.26 125.41M1722.34 125.41L1725.06 125.4M1725.14 125.4L1727.86 125.35M1727.94 125.35L1730.66 125.37M1730.74 125.38L1733.46 125.42M1733.54 125.42L1736.26 125.41M1736.34 125.4L1739.06 125.31M1739.14 125.31L1741.86 125.36M1741.94 125.36L1744.66 125.27M1744.74 125.27L1747.46 125.28M1747.54 125.28L1750.26 125.33M1750.34 125.33L1753.06 125.28M1753.14 125.28L1755.86 125.26M1755.94 125.26L1758.66 125.24M1758.74 125.24L1761.46 125.22M1761.54 125.22L1764.26 125.24M1764.34 125.24L1767.06 125.33M1767.14 125.33L1769.86 125.24M1769.94 125.24L1772.66 125.27M1772.74 125.27L1775.46 125.22M1775.54 125.22L1778.26 125.29M1778.34 125.29L1781.06 125.21M1781.14 125.21L1783.86 125.28M1783.94 125.28L1786.66 125.34M1786.74 125.34L1789.46 125.25M1789.54 125.25L1792.26 125.3M1792.34 125.3L1795.06 125.29M1795.14 125.29L1797.86 125.35M1797.94 125.35L1800.66 125.37M1800.74 125.37L1803.46 125.32M1803.54 125.32L1806.26 125.42M1806.34 125.42L1809.06 125.34M1809.14 125.34L1811.86 125.39M1811.94 125.39L1814.66 125.33M1814.74 125.33L1817.46 125.33M1817.54 125.33L1820.26 125.33M1820.34 125.33L1823.06 125.34M1823.14 125.34L1825.86 125.36M1825.94 125.36L1828.66 125.35M1828.74 125.35L1831.46 125.38M1831.54 125.38L1834.26 125.48M1834.34 125.48L1837.06 125.47M1837.14 125.47L1839.86 125.5M1839.94 125.5L1842.66 125.51M1842.74 125.52L1845.46 125.59M1845.54 125.59L1848.26 125.5M1848.34 125.5L1851.06 125.51M1851.14 125.51L1853.86 125.6M1853.94 125.6L1856.66 125.55M1856.74 125.55L1859.46 125.62M1859.54 125.62L1862.26 125.64M1862.34 125.64L1865.06 125.65M1865.14 125.65L1867.86 125.58M1867.94 125.58L1870.66 125.62M1870.74 125.62L1873.46 125.62M1873.54 125.62L1876.26 125.66M1876.34 125.66L1879.06 125.6M1879.14 125.6L1881.86 125.67M1881.94 125.67L1884.66 125.69M1884.74 125.69L1887.46 125.67M1887.54 125.67L1890.26 125.69M1890.34 125.69L1893.06 125.7M1893.14 125.7L1895.86 125.71M1895.94 125.71L1898.66 125.71M1898.74 125.71L1901.46 125.68M1901.54 125.68L1904.26 125.65M1904.34 125.65L1907.06 125.75M1907.14 125.76L1909.86 125.79M1909.94 125.79L1912.66 125.77M1912.74 125.77L1915.46 125.75M1915.54 125.75L1918.26 125.85M1918.34 125.85L1921.06 125.83M1921.14 125.83L1923.86 125.79M1923.94 125.79L1926.66 125.88M1926.74 125.88L1929.46 125.8M1929.54 125.8L1932.26 125.83M1932.34 125.83L1935.06 125.89M1935.14 125.89L1937.86 125.77M1937.94 125.77L1940.66 125.85M1940.74 125.85L1943.46 125.77M1943.54 125.77L1946.26 125.78M1946.34 125.78L1949.06 125.81M1949.14 125.82L1951.86 125.85M1951.94 125.85L1954.66 125.79M1954.74 125.78L1957.46 125.74M1957.54 125.74L1960.26 125.81M1960.34 125.81L1963.06 125.83M1963.14 125.83L1965.86 125.86M1965.94 125.86L1968.66 125.83M1968.74 125.83L1971.46 125.82M1971.54 125.82L1974.26 125.85M1974.34 125.85L1977.06 125.74M1977.14 125.74L1979.86 125.77M1979.94 125.77L1982.66 125.8M1982.74 125.8L1985.46 125.75M1985.54 125.75L1988.26 125.78M1988.34 125.79L1991.06 125.8M1991.14 125.8L1993.86 125.68M1993.94 125.68L1996.66 125.77M1996.74 125.77L1999.46 125.67M1999.54 125.67L2002.26 125.71M2002.34 125.71L2005.06 125.6M2005.14 125.6L2007.86 125.63M2007.94 125.63L2010.66 125.62M2010.74 125.62L2013.46 125.52M2013.54 125.52L2016.26 125.48M2016.34 125.48L2019.06 125.49M2019.14 125.49L2021.86 125.5M2021.94 125.5L2024.66 125.48M2024.74 125.47L2027.46 125.38M2027.54 125.38L2030.26 125.43M2030.34 125.43L2033.06 125.39M2033.14 125.39L2035.86 125.38M2035.94 125.38L2038.66 125.35" fill="none" stroke="#ff0000" stroke-width="7" stroke-linecap="butt"/>
<circle cx="211" cy="990.9" r="17" fill="#ff0000"/>
<circle cx="393.6" cy="980.7" r="17" fill="#ff0000"/>
<circle cx="576.3" cy="969.4" r="17" fill="#ff0000"/>
<circle cx="759" cy="941.5" r="17" fill="#ff0000"/>
<circle cx="941.5" cy="858.2" r="17" fill="#ff0000"/>
<circle cx="1124.4" cy="629.6" r="17" fill="#ff0000"/>
<circle cx="1306.8" cy="283.2" r="17" fill="#ff0000"/>
<circle cx="1489.5" cy="133.1" r="17" fill="#ff0000"/>
<circle cx="1672.3" cy="125.9" r="17" fill="#ff0000"/>
<circle cx="1855" cy="125.6" r="17" fill="#ff0000"/>
<circle cx="2038" cy="125.3" r="17" fill="#ff0000"/>
<path d="M204.74 942.27L207.46 941.66M207.54 941.66L210.26 942.06M210.34 942.06L213.06 941.94M213.14 941.94L215.86 941.67M215.94 941.67L218.66 941.36M218.74 941.35L221.46 941.16M221.54 941.16L224.26 940.77M224.34 940.77L227.06 940.87M227.14 940.86L229.86 940.21M229.94 940.21L232.66 940.67M232.74 940.67L235.46 940.36M235.54 940.35L238.26 939.85M238.34 939.84L241.06 939.8M241.14 939.8L243.86 939.9M243.94 939.89L246.66 939.24M246.74 939.24L249.46 939.61M249.54 939.61L252.26 939.38M252.34 939.37L255.06 939.03M255.14 939.01L257.86 938M257.94 937.98L260.66 937.8M260.74 937.81L263.46 938.06M263.54 938.06L266.26 937.94M266.34 937.94L269.06 938.05M269.14 938.05L271.86 938.05M271.94 938.04L274.66 937.52M274.74 937.51L277.46 937.53M277.54 937.53L280.26 937.31M280.34 937.29L283.06 936.59M283.14 936.59L285.86 936.85M285.94 936.85L288.66 936.2M288.74 936.19L291.46 936.27M291.54 936.27L294.26 935.68M294.34 935.68L297.06 936.28M297.14 936.29L299.86 936.36M299.94 936.35L302.66 935.28M302.74 935.27L305.46 935.85M305.54 935.84L308.26 934.9M308.34 934.89L311.06 935.16M311.14 935.16L313.86 935.01M313.94 935.02L316.66 935.73M316.74 935.73L319.46 935.59M319.54 935.59L322.26 935.62M322.34 935.61L325.06 934.73M325.14 934.73L327.86 935.13M327.94 935.13L330.66 934.99M330.74 934.99L333.46 934.67M333.54 934.66L336.26 934.8M336.34 934.8L339.06 934.28M339.14 934.26L341.86 933.83M341.94 933.83L344.66 934.13M344.74 934.13L347.46 933.72M347.54 933.71L350.26 933.37M350.34 933.37L353.06 933.56M353.14 933.55L355.86 932.48M355.94 932.47L358.66 932.98M358.74 932.99L361.46 933.14M361.54 933.13L364.26 932.2M364.34 932.2L367.06 932.56M367.14 932.56L369.86 931.63M369.94 931.63L372.66 932M372.74 932L375.46 931.56M375.54 931.55L378.26 931.16M378.34 931.17L381.06 931.99M381.14 931.99L383.86 930.81M383.94 930.79L386.66 930.58M386.74 930.58L389.46 931.08M389.54 931.08L392.26 930.51M392.34 930.51L395.06 930.78M395.14 930.78L397.86 930.62M397.94 930.62L400.66 930.65M400.74 930.65L403.46 930.53M403.54 930.53L406.26 930.42M406.34 930.41L409.06 930.16M409.14 930.16L411.86 930.39M411.94 930.39L414.66 929.79M414.74 929.78L417.46 929.8M417.54 929.8L420.26 929.72M420.34 929.71L423.06 928.94M423.14 928.93L425.86 928.93M425.94 928.93L428.66 929.04M428.74 929.03L431.46 928.17M431.54 928.16L434.26 928.74M434.34 928.75L437.06 928.54M437.14 928.53L439.86 928.18M439.94 928.17L442.66 927.9M442.74 927.91L445.46 928.98M445.54 928.97L448.26 927.55M448.34 927.54L451.06 928.12M451.14 928.12L453.86 927.75M453.94 927.75L456.66 927.84M456.74 927.84L459.46 927.26M459.54 927.24L462.26 926.75M462.34 926.74L465.06 926.91M465.14 926.92L467.86 927M467.94 926.99L470.66 925.8M470.74 925.79L473.46 926.72M473.54 926.72L476.26 926.36M476.34 926.34L479.06 925.61M479.14 925.6L481.86 926.24M481.94 926.24L484.66 925.53M484.74 925.52L487.46 924.93M487.54 924.92L490.26 924.96M490.34 924.97L493.06 925.44M493.14 925.43L495.86 924.62M495.94 924.62L498.66 924.8M498.74 924.8L501.46 924.6M501.54 924.6L504.26 924.49M504.34 924.49L507.06 924.98M507.14 924.98L509.86 924.56M509.94 924.56L512.66 924.74M512.74 924.74L515.46 924.39M515.54 924.38L518.26 923.97M518.34 923.97L521.06 924M521.14 924L523.86 923.78M523.94 923.76L526.66 923.04M526.74 923.02L529.46 922.36M529.54 922.35L532.26 922.44M532.34 922.45L535.06 922.52M535.14 922.53L537.86 922.71M537.94 922.71L540.66 922.34M540.74 922.33L543.46 922.07M543.54 922.05L546.26 921.09M546.34 921.08L549.06 921.31M549.14 921.3L551.86 920.54M551.94 920.53L554.66 920.31M554.74 920.3L557.46 919.97M557.54 919.97L560.26 920.42M560.34 920.42L563.06 920.4M563.14 920.39L565.86 919.8M565.94 919.78L568.66 918.82M568.74 918.82L571.46 919.42M571.54 919.42L574.26 918.75M574.34 918.74L577.06 919.12M577.14 919.12L579.86 918.67M579.94 918.66L582.66 918.62M582.74 918.61L585.46 917.59M585.54 917.58L588.26 917.32M588.34 917.31L591.06 917.19M591.14 917.18L593.86 916.75M593.94 916.75L596.66 917.45M596.74 917.45L599.46 916.74M599.54 916.72L602.26 915.93M602.34 915.92L605.06 916.44M605.14 916.43L607.86 915.58M607.94 915.58L610.66 916.29M610.74 916.29L613.46 915.27M613.54 915.24L616.26 914.56M616.34 914.56L619.06 915.06M619.14 915.06L621.86 914.21M621.94 914.2L624.66 914.29M624.74 914.29L627.46 914.23M627.54 914.21L630.26 912.94M630.34 912.92L633.06 913.26M633.14 913.27L635.86 913.38M635.94 913.37L638.66 912.5M638.74 912.49L641.46 912.26M641.54 912.26L644.26 912.56M644.34 912.55L647.06 911.62M647.14 911.61L649.86 912.09M649.94 912.09L652.66 911.68M652.74 911.68L655.46 911.73M655.54 911.73L658.26 911.27M658.34 911.25L661.06 910.47M661.14 910.45L663.86 909.93M663.94 909.92L666.66 909.57M666.74 909.56L669.46 909.21M669.54 909.21L672.26 909.48M672.34 909.47L675.06 908.29M675.14 908.27L677.86 908.23M677.94 908.22L680.66 907.66M680.74 907.64L683.46 907.27M683.54 907.26L686.26 906.88M686.34 906.87L689.06 907.06M689.14 907.06L691.86 906.5M691.94 906.49L694.66 906.29M694.74 906.28L697.46 905.36M697.54 905.35L700.26 905.36M700.34 905.34L703.06 904.42M703.14 904.41L705.86 904.1M705.94 904.09L708.66 903.68M708.74 903.67L711.46 903.7M711.54 903.7L714.26 903.58M714.34 903.57L717.06 902.79M717.14 902.78L719.86 902.39M719.94 902.37L722.66 901.15M722.74 901.13L725.46 901.04M725.54 901.03L728.26 900.49M728.34 900.48L731.06 900.29M731.14 900.28L733.86 899.48M733.94 899.46L736.66 899.11M736.74 899.11L739.46 899.35M739.54 899.35L742.26 898.79M742.34 898.77L745.06 898.12M745.14 898.11L747.86 897.93M747.94 897.92L750.66 897.46M750.74 897.45L753.46 897.44M753.54 897.43L756.26 896.68M756.34 896.67L759.06 896.65M759.14 896.64L761.86 896.16M761.94 896.15L764.66 895.86M764.74 895.85L767.46 895.06M767.54 895.04L770.26 894.61M770.34 894.58L773.06 893.11M773.14 893.09L775.86 892.93M775.94 892.92L778.66 892.1M778.74 892.08L781.46 890.95M781.54 890.93L784.26 890.62M784.34 890.61L787.06 890.47M787.14 890.45L789.86 889.54M789.94 889.52L792.66 888.89M792.74 888.88L795.46 888.55M795.54 888.54L798.26 887.76M798.34 887.75L801.06 887.72M801.14 887.71L803.86 887.06M803.94 887.04L806.66 886.66M806.74 886.64L809.46 885.73M809.54 885.7L812.26 884.78M812.34 884.77L815.06 884.92M815.14 884.91L817.86 883.73M817.94 883.7L820.66 882.41M820.74 882.39L823.46 881.9M823.54 881.89L826.26 881.88M826.34 881.87L829.06 880.99M829.14 880.97L831.86 879.92M831.94 879.89L834.66 879.12M834.74 879.11L837.46 879.05M837.54 879.04L840.26 877.95M840.34 877.92L843.06 877.21M843.14 877.2L845.86 876.72M845.94 876.71L848.66 876.94M848.74 876.93L851.46 876.28M851.54 876.26L854.26 875.63M854.34 875.6L857.06 874.36M857.14 874.33L859.86 872.98M859.94 872.95L862.66 871.95M862.74 871.93L865.46 871.64M865.53 871.62L868.27 869.99M868.34 869.96L871.06 869.47M871.14 869.46L873.86 868.81M873.93 868.78L876.67 867.25M876.74 867.22L879.46 866.3M879.54 866.28L882.26 865.6M882.34 865.58L885.06 864.64M885.14 864.61L887.86 863.44M887.94 863.42L890.66 862.95M890.74 862.93L893.46 861.44M893.54 861.41L896.26 860.44M896.34 860.41L899.06 859.45M899.14 859.43L901.86 858.26M901.94 858.23L904.66 857.28M904.74 857.25L907.46 856.06M907.54 856.03L910.26 855.16M910.34 855.13L913.06 853.98M913.14 853.95L915.86 852.64M915.94 852.6L918.66 851.49M918.74 851.46L921.46 849.96M921.54 849.93L924.26 849M924.34 848.97L927.06 847.91M927.14 847.88L929.86 846.65M929.94 846.62L932.66 845.17M932.74 845.14L935.46 844.17M935.53 844.13L938.27 842.55M938.34 842.52L941.06 841.43M941.14 841.39L943.86 839.9M943.93 839.86L946.67 838.07M946.74 838.03L949.46 837.14M949.53 837.11L952.27 835.53M952.33 835.49L955.07 833.88M955.14 833.84L957.86 832.58M957.93 832.54L960.67 830.95M960.73 830.91L963.47 829.34M963.53 829.3L966.27 827.73M966.33 827.69L969.07 826.06M969.13 826.01L971.87 824.17M971.93 824.12L974.67 822.6M974.73 822.55L977.47 820.71M977.54 820.67L980.26 819.17M980.33 819.13L983.07 817.29M983.13 817.25L985.87 815.72M985.93 815.68L988.67 814.01M988.73 813.96L991.47 812.01M991.53 811.97L994.27 810.22M994.33 810.18L997.07 808.31M997.13 808.27L999.87 806.51" fill="none" stroke="#0000ff" stroke-width="6.8" stroke-linecap="butt"/>
<path d="M999.93 806.46L1002.67 804.45M1002.73 804.4L1005.47 802.41M1005.53 802.36L1008.27 800.45M1008.33 800.4L1011.07 798.32M1011.13 798.27L1013.87 796.2M1013.93 796.16L1016.67 794.07M1016.73 794.03L1019.47 791.88M1019.53 791.83L1022.27 789.67M1022.33 789.62L1025.07 787.47M1025.13 787.42L1027.87 785.17M1027.93 785.12L1030.67 782.91M1030.73 782.86L1033.47 780.62M1033.53 780.57L1036.27 778.28M1036.33 778.23L1039.07 775.77M1039.13 775.72L1041.87 773.32M1041.93 773.27L1044.67 770.8M1044.73 770.75L1047.47 768.28M1047.53 768.22L1050.27 765.82M1050.33 765.76L1053.07 763.14M1053.13 763.08L1055.87 760.41M1055.93 760.35L1058.67 757.82M1058.73 757.76L1061.47 755.01M1061.53 754.95L1064.27 752.29M1064.33 752.24L1067.07 749.54M1067.13 749.48L1069.87 746.61M1069.93 746.56L1072.67 743.74M1072.73 743.69L1075.47 740.84M1075.53 740.78L1078.27 737.9M1078.33 737.84L1081.07 734.9M1081.13 734.84L1083.87 731.73M1083.93 731.67L1086.67 728.73M1086.73 728.67L1089.47 725.53M1089.53 725.47L1092.27 722.29M1092.33 722.23L1095.07 718.98M1095.13 718.92L1097.87 715.74M1097.93 715.68L1100.67 712.29M1100.73 712.23L1103.47 709.02M1103.52 708.96L1106.28 705.49M1106.33 705.42L1109.07 702.07M1109.12 702L1111.88 698.5M1111.92 698.44L1114.68 694.86M1114.72 694.79L1117.48 691.21M1117.52 691.14L1120.28 687.57M1120.32 687.51L1123.08 683.84M1123.12 683.78L1125.88 680.06M1125.92 680L1128.68 676.32M1128.72 676.25L1131.48 672.38M1131.52 672.31L1134.28 668.45M1134.32 668.38L1137.08 664.55M1137.12 664.48L1139.88 660.51M1139.92 660.44L1142.68 656.45M1142.72 656.38L1145.48 652.36M1145.52 652.29L1148.28 648.16M1148.32 648.09L1151.08 643.96M1151.12 643.89L1153.88 639.78M1153.92 639.72L1156.68 635.48M1156.72 635.41L1159.48 631.16M1159.52 631.09L1162.28 626.78M1162.32 626.72L1165.08 622.31M1165.12 622.25L1167.88 617.84M1167.92 617.77L1170.68 613.34M1170.72 613.27L1173.48 608.88M1173.52 608.81L1176.28 604.28M1176.32 604.21L1179.08 599.71M1179.12 599.64L1181.88 595.03M1181.92 594.96L1184.68 590.39M1184.72 590.32L1187.48 585.69M1187.52 585.62L1190.28 580.83M1190.32 580.76L1193.08 576.04M1193.12 575.97L1195.88 571.13M1195.92 571.06L1198.68 566.33M1198.72 566.26L1201.48 561.36M1201.52 561.29L1204.28 556.43M1204.32 556.36L1207.08 551.48M1207.12 551.41L1209.88 546.47M1209.92 546.4L1212.68 541.34M1212.72 541.27L1215.48 536.32M1215.52 536.25L1218.28 531.21M1218.32 531.14L1221.08 526.02M1221.12 525.95L1223.88 520.77M1223.92 520.7L1226.68 515.55M1226.72 515.48L1229.48 510.29M1229.52 510.22L1232.28 505.05M1232.32 504.98L1235.08 499.7M1235.12 499.63L1237.88 494.34M1237.92 494.27L1240.68 488.98M1240.72 488.91L1243.48 483.56M1243.52 483.49L1246.28 478.21M1246.32 478.14L1249.08 472.79M1249.12 472.72L1251.88 467.34M1251.92 467.27L1254.68 461.86M1254.72 461.79L1257.48 456.29M1257.52 456.21L1260.28 450.86M1260.32 450.79L1263.08 445.34M1263.12 445.27L1265.88 439.77M1265.92 439.69L1268.68 434.31M1268.72 434.24L1271.48 428.82M1271.52 428.75L1274.28 423.26M1274.32 423.19L1277.08 417.84M1277.12 417.77L1279.88 412.29M1279.92 412.22L1282.68 406.8M1282.72 406.73L1285.48 401.3M1285.52 401.23L1288.28 395.88M1288.32 395.8L1291.08 390.39M1291.12 390.31L1293.88 384.96M1293.92 384.89L1296.68 379.48M1296.72 379.41L1299.48 374.07M1299.52 374L1302.28 368.69M1302.32 368.62L1305.08 363.33M1305.12 363.26L1307.88 358M1307.92 357.93L1310.68 352.65M1310.72 352.58L1313.48 347.42M1313.52 347.35L1316.28 342.25M1316.32 342.18L1319.08 337.03M1319.12 336.96L1321.88 331.86M1321.92 331.78L1324.68 326.65M1324.72 326.58L1327.48 321.67M1327.52 321.6L1330.28 316.52M1330.32 316.45L1333.08 311.53M1333.12 311.46L1335.88 306.57M1335.92 306.5L1338.68 301.7M1338.72 301.63L1341.48 296.77M1341.52 296.7L1344.28 291.99M1344.32 291.93L1347.08 287.24M1347.12 287.17L1349.88 282.62M1349.92 282.55L1352.68 277.95M1352.72 277.88L1355.48 273.36M1355.52 273.3L1358.28 268.89M1358.32 268.82L1361.08 264.47M1361.12 264.41L1363.88 260.13M1363.92 260.06L1366.68 255.73M1366.72 255.66L1369.48 251.55M1369.52 251.49L1372.28 247.33M1372.32 247.26L1375.08 243.24M1375.12 243.17L1377.88 239.13M1377.92 239.06L1380.68 235.26M1380.72 235.2L1383.48 231.26M1383.52 231.2L1386.28 227.42M1386.32 227.36L1389.08 223.73M1389.12 223.66L1391.88 220.05M1391.92 219.98L1394.68 216.52M1394.72 216.45L1397.48 213.01M1397.53 212.94L1400.27 209.63M1400.33 209.57L1403.07 206.33M1403.13 206.27L1405.87 203.08M1405.93 203.02L1408.67 199.9M1408.73 199.84L1411.47 196.88M1411.53 196.83L1414.27 193.91M1414.33 193.85L1417.07 191.07M1417.13 191.01L1419.87 188.3M1419.93 188.25L1422.67 185.63M1422.73 185.57L1425.47 183.04M1425.53 182.99L1428.27 180.57M1428.33 180.52L1431.07 178.22M1431.13 178.17L1433.87 176.04M1433.93 175.99L1436.67 173.89M1436.73 173.84L1439.47 171.78M1439.53 171.73L1442.27 169.77M1442.33 169.72L1445.07 167.86M1445.13 167.81L1447.87 166.16M1447.93 166.12L1450.67 164.43M1450.73 164.39L1453.47 162.82M1453.53 162.78L1456.27 161.24M1456.33 161.21L1459.07 159.68M1459.14 159.64L1461.86 158.29M1461.94 158.25L1464.66 156.91M1464.74 156.87L1467.46 155.54M1467.54 155.51L1470.26 154.38M1470.34 154.35L1473.06 153.26M1473.14 153.23L1475.86 152.07M1475.94 152.04L1478.66 151.04M1478.74 151.01L1481.46 149.97M1481.54 149.94L1484.26 149.07M1484.34 149.04L1487.06 148.11M1487.14 148.09L1489.86 147.31M1489.94 147.29L1492.66 146.44M1492.74 146.42L1495.46 145.65M1495.54 145.63L1498.26 144.85M1498.34 144.83L1501.06 144.11M1501.14 144.09L1503.86 143.44M1503.94 143.42L1506.66 142.72M1506.74 142.7L1509.46 142.08M1509.54 142.07L1512.26 141.48M1512.34 141.47L1515.06 140.79M1515.14 140.77L1517.86 140.23M1517.94 140.21L1520.66 139.71M1520.74 139.7L1523.46 139.14M1523.54 139.13L1526.26 138.66M1526.34 138.65L1529.06 138.14M1529.14 138.13L1531.86 137.66M1531.94 137.64L1534.66 137.08M1534.74 137.06L1537.46 136.63M1537.54 136.62L1540.26 136.27M1540.34 136.26L1543.06 135.86M1543.14 135.85L1545.86 135.43M1545.94 135.42L1548.66 135.04M1548.74 135.03L1551.46 134.72M1551.54 134.71L1554.26 134.38M1554.34 134.37L1557.06 133.98M1557.14 133.97L1559.86 133.78M1559.94 133.77L1562.66 133.48M1562.74 133.48L1565.46 133.14M1565.54 133.13L1568.26 132.93M1568.34 132.92L1571.06 132.64M1571.14 132.64L1573.86 132.47M1573.94 132.47L1576.66 132.2M1576.74 132.2L1579.46 132M1579.54 131.99L1582.26 131.85M1582.34 131.85L1585.06 131.69M1585.14 131.69L1587.86 131.48M1587.94 131.47L1590.66 131.41M1590.74 131.4L1593.46 131.13M1593.54 131.13L1596.26 131.05M1596.34 131.05L1599.06 130.96M1599.14 130.96L1601.86 130.74M1601.94 130.73L1604.66 130.64M1604.74 130.64L1607.46 130.57M1607.54 130.57L1610.26 130.46M1610.34 130.46L1613.06 130.47M1613.14 130.47L1615.86 130.33M1615.94 130.32L1618.66 130.19M1618.74 130.19L1621.46 130.2M1621.54 130.2L1624.26 130.18M1624.34 130.17L1627.06 130.16M1627.14 130.16L1629.86 130.08M1629.94 130.08L1632.66 130.13M1632.74 130.13L1635.46 130.07M1635.54 130.06L1638.26 130.1M1638.34 130.1L1641.06 130.06M1641.14 130.06L1643.86 130.11M1643.94 130.11L1646.66 129.98M1646.74 129.98L1649.46 130.05M1649.54 130.05L1652.26 130.04M1652.34 130.04L1655.06 130.04M1655.14 130.04L1657.86 129.91M1657.94 129.91L1660.66 129.93M1660.74 129.93L1663.46 129.93M1663.54 129.93L1666.26 129.97M1666.34 129.97L1669.06 129.94M1669.14 129.94L1671.86 129.91M1671.94 129.91L1674.66 129.92M1674.74 129.92L1677.46 129.89M1677.54 129.89L1680.26 129.94M1680.34 129.94L1683.06 129.87M1683.14 129.87L1685.86 129.84M1685.94 129.83L1688.66 129.78M1688.74 129.78L1691.46 129.87M1691.54 129.87L1694.26 129.79M1694.34 129.79L1697.06 129.82M1697.14 129.82L1699.86 129.76M1699.94 129.76L1702.66 129.79M1702.74 129.79L1705.46 129.8M1705.54 129.8L1708.26 129.83M1708.34 129.83L1711.06 129.8M1711.14 129.8L1713.86 129.8M1713.94 129.8L1716.66 129.7M1716.74 129.7L1719.46 129.7M1719.54 129.69L1722.26 129.64M1722.34 129.64L1725.06 129.68M1725.14 129.68L1727.86 129.66M1727.94 129.66L1730.66 129.65M1730.74 129.65L1733.46 129.59M1733.54 129.59L1736.26 129.67M1736.34 129.67L1739.06 129.63M1739.14 129.63L1741.86 129.53M1741.94 129.53L1744.66 129.6M1744.74 129.6L1747.46 129.53M1747.54 129.53L1750.26 129.54M1750.34 129.54L1753.06 129.52M1753.14 129.52L1755.86 129.57M1755.94 129.57L1758.66 129.43M1758.74 129.43L1761.46 129.51M1761.54 129.51L1764.26 129.48M1764.34 129.48L1767.06 129.43M1767.14 129.43L1769.86 129.44M1769.94 129.44L1772.66 129.41M1772.74 129.41L1775.46 129.25M1775.54 129.25L1778.26 129.2M1778.34 129.2L1781.06 129.22M1781.14 129.22L1783.86 129.18M1783.94 129.18L1786.66 129.11M1786.74 129.11L1789.46 129.07M1789.54 129.07L1792.26 129.06M1792.34 129.06L1795.06 128.96M1795.14 128.95L1797.86 128.96M1797.94 128.96L1800.66 128.96M1800.74 128.96L1803.46 129M1803.54 129L1806.26 128.96M1806.34 128.96L1809.06 128.91M1809.14 128.91L1811.86 128.89M1811.94 128.89L1814.66 128.88M1814.74 128.88L1817.46 128.85M1817.54 128.85L1820.26 128.83M1820.34 128.83L1823.06 128.88M1823.14 128.88L1825.86 128.81M1825.94 128.81L1828.66 128.72M1828.74 128.72L1831.46 128.74M1831.54 128.74L1834.26 128.68M1834.34 128.68L1837.06 128.68M1837.14 128.68L1839.86 128.73M1839.94 128.73L1842.66 128.68M1842.74 128.67L1845.46 128.56M1845.54 128.56L1848.26 128.61M1848.34 128.61L1851.06 128.6M1851.14 128.6L1853.86 128.5M1853.94 128.5L1856.66 128.48M1856.74 128.48L1859.46 128.47M1859.54 128.47L1862.26 128.45M1862.34 128.45L1865.06 128.5M1865.14 128.5L1867.86 128.38M1867.94 128.38L1870.66 128.35M1870.74 128.35L1873.46 128.37M1873.54 128.37L1876.26 128.43M1876.34 128.43L1879.06 128.29M1879.14 128.28L1881.86 128.23M1881.94 128.23L1884.66 128.28M1884.74 128.27L1887.46 128.18M1887.54 128.18L1890.26 128.17M1890.34 128.17L1893.06 128.19M1893.14 128.19L1895.86 128.16M1895.94 128.16L1898.66 128.1M1898.74 128.1L1901.46 128.11M1901.54 128.11L1904.26 128.06M1904.34 128.06L1907.06 128.08M1907.14 128.09L1909.86 128.09M1909.94 128.09L1912.66 128.07M1912.74 128.07L1915.46 128.07M1915.54 128.07L1918.26 127.94M1918.34 127.94L1921.06 127.95M1921.14 127.95L1923.86 127.97M1923.94 127.97L1926.66 127.92M1926.74 127.92L1929.46 127.9M1929.54 127.9L1932.26 127.85M1932.34 127.85L1935.06 127.89M1935.14 127.89L1937.86 127.93M1937.94 127.93L1940.66 127.86M1940.74 127.86L1943.46 127.8M1943.54 127.8L1946.26 127.84M1946.34 127.84L1949.06 127.81M1949.14 127.81L1951.86 127.93M1951.94 127.93L1954.66 127.84M1954.74 127.84L1957.46 127.91M1957.54 127.91L1960.26 127.96M1960.34 127.96L1963.06 127.91M1963.14 127.91L1965.86 127.95M1965.94 127.95L1968.66 127.89M1968.74 127.89L1971.46 127.85M1971.54 127.85L1974.26 127.86M1974.34 127.86L1977.06 127.81M1977.14 127.81L1979.86 127.88M1979.94 127.88L1982.66 127.84M1982.74 127.84L1985.46 127.87M1985.54 127.87L1988.26 127.82M1988.34 127.82L1991.06 127.86M1991.14 127.86L1993.86 127.94M1993.94 127.94L1996.66 127.92M1996.74 127.92L1999.46 127.95M1999.54 127.95L2002.26 127.89M2002.34 127.89L2005.06 127.93M2005.14 127.93L2007.86 127.95M2007.94 127.95L2010.66 127.9M2010.74 127.9L2013.46 128.01M2013.54 128.01L2016.26 127.96M2016.34 127.96L2019.06 127.95M2019.14 127.95L2021.86 127.98M2021.94 127.98L2024.66 128.02M2024.74 128.02L2027.46 128.05M2027.54 128.05L2030.26 128.13M2030.34 128.13L2033.06 128.15M2033.14 128.15L2035.86 128.17M2035.94 128.17L2038.66 128.24" fill="none" stroke="#0000ff" stroke-width="7" stroke-linecap="butt"/>
<path d="M211 919.1L230.8 953.4H191.2Z" fill="#0000ff" stroke="#0000ff" stroke-width="1" stroke-linejoin="round"/>
<path d="M393.6 907.9L413.4 942.2H373.8Z" fill="#0000ff" stroke="#0000ff" stroke-width="1" stroke-linejoin="round"/>
<path d="M576.3 896L596.1 930.3H556.5Z" fill="#0000ff" stroke="#0000ff" stroke-width="1" stroke-linejoin="round"/>
<path d="M759 873.1L778.8 907.4H739.2Z" fill="#0000ff" stroke="#0000ff" stroke-width="1" stroke-linejoin="round"/>
<path d="M941.5 818L961.3 852.3H921.7Z" fill="#0000ff" stroke="#0000ff" stroke-width="1" stroke-linejoin="round"/>
<path d="M1124.4 659.2L1144.2 693.5H1104.6Z" fill="#0000ff" stroke="#0000ff" stroke-width="1" stroke-linejoin="round"/>
<path d="M1306.8 337.1L1326.6 371.4H1287Z" fill="#0000ff" stroke="#0000ff" stroke-width="1" stroke-linejoin="round"/>
<path d="M1489.5 124.5L1509.3 158.8H1469.7Z" fill="#0000ff" stroke="#0000ff" stroke-width="1" stroke-linejoin="round"/>
<path d="M1672.3 107L1692.1 141.3H1652.5Z" fill="#0000ff" stroke="#0000ff" stroke-width="1" stroke-linejoin="round"/>
<path d="M1855 105.6L1874.8 139.9H1835.2Z" fill="#0000ff" stroke="#0000ff" stroke-width="1" stroke-linejoin="round"/>
<path d="M2038 105.3L2057.8 139.6H2018.2Z" fill="#0000ff" stroke="#0000ff" stroke-width="1" stroke-linejoin="round"/>
<path d="M204.74 1068.27L207.46 1068.07M207.54 1068.07L210.26 1067.86M210.34 1067.86L213.06 1068.2M213.14 1068.2L215.86 1067.76M215.94 1067.75L218.66 1067.63M218.74 1067.62L221.46 1067.29M221.54 1067.28L224.26 1066.88M224.34 1066.88L227.06 1066.95M227.14 1066.94L229.86 1066.31M229.94 1066.3L232.66 1066.27M232.74 1066.26L235.46 1065.94M235.54 1065.94L238.26 1065.97M238.34 1065.96L241.06 1065.27M241.14 1065.26L243.86 1064.71M243.94 1064.7L246.66 1064.59M246.74 1064.59L249.46 1064.99M249.54 1064.99L252.26 1064.19M252.34 1064.19L255.06 1064.76M255.14 1064.77L257.86 1064.57M257.94 1064.55L260.66 1063.65M260.74 1063.64L263.46 1064.34M263.54 1064.34L266.26 1063.32M266.34 1063.32L269.06 1063.81M269.14 1063.82L271.86 1063.38M271.94 1063.37L274.66 1062.55M274.74 1062.54L277.46 1062.7M277.54 1062.7L280.26 1062.37M280.34 1062.35L283.06 1061.44M283.14 1061.43L285.86 1061.95M285.94 1061.95L288.66 1061.04M288.74 1061.03L291.46 1061.54M291.54 1061.54L294.26 1061.06M294.34 1061.06L297.06 1061.05M297.14 1061.03L299.86 1059.8M299.94 1059.78L302.66 1059.95M302.74 1059.95L305.46 1059.81M305.54 1059.8L308.26 1059.43M308.34 1059.41L311.06 1058.5M311.14 1058.49L313.86 1058.77M313.94 1058.77L316.66 1058.49M316.74 1058.48L319.46 1057.61M319.54 1057.6L322.26 1057.29M322.34 1057.28L325.06 1057.3M325.14 1057.29L327.86 1056.72M327.94 1056.72L330.66 1056.85M330.74 1056.85L333.46 1056.55M333.54 1056.54L336.26 1056.23M336.34 1056.22L339.06 1055.66M339.14 1055.64L341.86 1055.23M341.94 1055.22L344.66 1055.25M344.74 1055.25L347.46 1055.12M347.54 1055.11L350.26 1054.63M350.34 1054.62L353.06 1054.76M353.14 1054.75L355.86 1054.17M355.94 1054.16L358.66 1053.98M358.74 1053.97L361.46 1053.36M361.54 1053.34L364.26 1052.71M364.34 1052.7L367.06 1052.23M367.14 1052.22L369.86 1051.83M369.94 1051.82L372.66 1051.63M372.74 1051.64L375.46 1052.29M375.54 1052.29L378.26 1051.56M378.34 1051.54L381.06 1051M381.14 1050.98L383.86 1050.27M383.94 1050.26L386.66 1050.37M386.74 1050.36L389.46 1049.42M389.54 1049.42L392.26 1050.11M392.34 1050.11L395.06 1049.4M395.14 1049.38L397.86 1048.98M397.94 1048.97L400.66 1048.29M400.74 1048.27L403.46 1047.67M403.54 1047.66L406.26 1047.7M406.34 1047.7L409.06 1047.35M409.14 1047.33L411.86 1046.35M411.94 1046.33L414.66 1046.15M414.74 1046.14L417.46 1045.81M417.54 1045.8L420.26 1045.53M420.34 1045.51L423.06 1044.74M423.14 1044.72L425.86 1044.31M425.94 1044.31L428.66 1044.62M428.74 1044.61L431.46 1043.69M431.54 1043.67L434.26 1043.38M434.34 1043.37L437.06 1043.55M437.14 1043.54L439.86 1042.59M439.94 1042.58L442.66 1042.72M442.74 1042.71L445.46 1041.72M445.54 1041.71L448.26 1042.09M448.34 1042.08L451.06 1041.32M451.14 1041.31L453.86 1041.56M453.94 1041.56L456.66 1040.81M456.74 1040.79L459.46 1040.13M459.54 1040.1L462.26 1038.96M462.34 1038.94L465.06 1038.61M465.14 1038.6L467.86 1038.29M467.94 1038.28L470.66 1038.1M470.74 1038.1L473.46 1038.13M473.54 1038.12L476.26 1037.01M476.34 1036.98L479.06 1036.54M479.14 1036.53L481.86 1036.68M481.94 1036.67L484.66 1035.78M484.74 1035.77L487.46 1035.66M487.54 1035.65L490.26 1035.03M490.34 1035.02L493.06 1034.87M493.14 1034.85L495.86 1033.69M495.94 1033.68L498.66 1034.02M498.74 1034.02L501.46 1033.39M501.54 1033.37L504.26 1032.94M504.34 1032.93L507.06 1032.2M507.14 1032.19L509.86 1031.85M509.94 1031.84L512.66 1031.68M512.74 1031.67L515.46 1031.12M515.54 1031.1L518.26 1030.41M518.34 1030.38L521.06 1029.21M521.14 1029.2L523.86 1029.17M523.94 1029.16L526.66 1028.88M526.74 1028.87L529.46 1028.12M529.54 1028.1L532.26 1027.22M532.34 1027.2L535.06 1026.9M535.14 1026.88L537.86 1025.99M537.94 1025.98L540.66 1026.19M540.74 1026.19L543.46 1025.89M543.54 1025.87L546.26 1024.72M546.34 1024.7L549.06 1024.63M549.14 1024.62L551.86 1024.09M551.94 1024.07L554.66 1023.5M554.74 1023.49L557.46 1023.59M557.54 1023.58L560.26 1023.09M560.34 1023.08L563.06 1022.53M563.14 1022.51L565.86 1021.21M565.94 1021.18L568.66 1020.26M568.74 1020.25L571.46 1020.28M571.54 1020.27L574.26 1019.46M574.34 1019.44L577.06 1018.9M577.14 1018.88L579.86 1018.1M579.94 1018.07L582.66 1016.83M582.74 1016.81L585.46 1016.51M585.54 1016.49L588.26 1015.39M588.34 1015.37L591.06 1015.35M591.14 1015.34L593.86 1014.73M593.94 1014.71L596.66 1013.56M596.74 1013.54L599.46 1013.23M599.54 1013.22L602.26 1012.99M602.34 1012.97L605.06 1012.03M605.14 1012.01L607.86 1011.25M607.94 1011.23L610.66 1010.99M610.74 1010.97L613.46 1010.06M613.54 1010.04L616.26 1009.68M616.34 1009.67L619.06 1009.46M619.14 1009.44L621.86 1008.59M621.94 1008.56L624.66 1007.16M624.74 1007.14L627.46 1006.93M627.54 1006.91L630.26 1006.11M630.34 1006.09L633.06 1005.46M633.13 1005.43L635.87 1003.86M635.94 1003.84L638.66 1003.88M638.74 1003.86L641.46 1002.68M641.54 1002.66L644.26 1002.67M644.34 1002.66L647.06 1001.64M647.14 1001.62L649.86 1000.74M649.94 1000.71L652.66 999.99M652.74 999.98L655.46 1000.01M655.54 999.99L658.26 998.57M658.34 998.55L661.06 998.53M661.14 998.51L663.86 997.42M663.94 997.39L666.66 996.28M666.74 996.26L669.46 995.88M669.54 995.86L672.26 994.9M672.34 994.87L675.06 993.78M675.14 993.77L677.86 993.6M677.94 993.58L680.66 992.17M680.74 992.14L683.46 991.12M683.54 991.11L686.26 990.96M686.34 990.94L689.06 990.08M689.14 990.05L691.86 988.88M691.94 988.85L694.66 987.74M694.74 987.72L697.46 987.28M697.54 987.26L700.26 986.29M700.34 986.27L703.06 985.58M703.14 985.55L705.86 984.36M705.94 984.33L708.66 983.73M708.74 983.71L711.46 982.92M711.53 982.89L714.27 981.32M714.34 981.29L717.06 980.25M717.14 980.23L719.86 979.6M719.94 979.58L722.66 978.87M722.74 978.85L725.46 978.03M725.54 978L728.26 977.19M728.34 977.16L731.06 975.82M731.14 975.79L733.86 974.91M733.94 974.88L736.66 973.53M736.74 973.5L739.46 972.8M739.54 972.78L742.26 971.68M742.34 971.66L745.06 971.35M745.14 971.33L747.86 970.42M747.94 970.39L750.66 969.06M750.74 969.03L753.46 967.93M753.54 967.9L756.26 966.54M756.34 966.51L759.06 965.79M759.13 965.75L761.87 963.82M761.94 963.78L764.66 962.93M764.74 962.9L767.46 961.59M767.54 961.57L770.26 960.87M770.33 960.83L773.07 959.1M773.14 959.06L775.86 957.88M775.94 957.85L778.66 956.61M778.74 956.58L781.46 956.12M781.53 956.1L784.27 954.46M784.34 954.43L787.06 953.81M787.13 953.78L789.87 952.18M789.94 952.15L792.66 951.54M792.73 951.51L795.47 949.98M795.54 949.95L798.26 949.46M798.34 949.44L801.06 948.33M801.14 948.3L803.86 946.91M803.94 946.88L806.66 945.53M806.74 945.5L809.46 944.34M809.54 944.31L812.26 942.92M812.34 942.88L815.06 941.52M815.13 941.47L817.87 939.44M817.94 939.4L820.66 938.58M820.74 938.55L823.46 937.22M823.53 937.18L826.27 935.23M826.34 935.18L829.06 933.74M829.14 933.71L831.86 933.02M831.93 932.99L834.67 931.33M834.74 931.29L837.46 929.96M837.54 929.93L840.26 928.94M840.33 928.9L843.07 926.83M843.13 926.78L845.87 924.87M845.94 924.83L848.66 923.55M848.73 923.51L851.47 921.71M851.53 921.66L854.27 919.85M854.34 919.81L857.06 918.55M857.13 918.52L859.87 916.91M859.93 916.87L862.67 914.66M862.74 914.62L865.46 913.34M865.54 913.3L868.26 911.83M868.33 911.79L871.07 909.83M871.13 909.78L873.87 907.73M873.94 907.69L876.66 906.48M876.73 906.43L879.47 904.33M879.53 904.28L882.27 902.51M882.34 902.47L885.06 901.16M885.13 901.12L887.87 899.06M887.93 899.01L890.67 896.97M890.74 896.93L893.46 895.49M893.53 895.45L896.27 893.67M896.33 893.62L899.07 891.15M899.13 891.1L901.87 889.16M901.93 889.11L904.67 887.1M904.73 887.05L907.47 885.23M907.53 885.18L910.27 882.62M910.33 882.57L913.07 880.7M913.13 880.65L915.87 878.39M915.93 878.34L918.67 876.61M918.73 876.56L921.47 874.09M921.53 874.04L924.27 872.2M924.33 872.15L927.07 869.69M927.13 869.64L929.87 867.6M929.93 867.55L932.67 864.9M932.73 864.85L935.47 862.49M935.53 862.43L938.27 860.17M938.33 860.12L941.07 857.65M941.13 857.6L943.87 855.05M943.93 854.99L946.67 852.69M946.73 852.63L949.47 849.97M949.53 849.92L952.27 847.61M952.33 847.56L955.07 845.19M955.13 845.14L957.87 842.45M957.93 842.4L960.67 839.78M960.73 839.73L963.47 837.18M963.53 837.12L966.27 834.31M966.33 834.26L969.07 831.55M969.13 831.49L971.87 828.69M971.93 828.63L974.67 825.72M974.73 825.66L977.47 823.04M977.53 822.98L980.27 820.08M980.33 820.02L983.07 816.99M983.13 816.93L985.87 813.96M985.93 813.9L988.67 810.95M988.73 810.89L991.47 807.93M991.53 807.88L994.27 804.78M994.33 804.72L997.07 801.54M997.13 801.48L999.87 798.19" fill="none" stroke="#ff00ff" stroke-width="6.8" stroke-linecap="butt"/>
<path d="M999.93 798.13L1002.67 795.15M1002.73 795.09L1005.47 791.79M1005.53 791.73L1008.27 788.5M1008.33 788.44L1011.07 785.13M1011.13 785.07L1013.87 781.73M1013.93 781.67L1016.67 778.25M1016.73 778.19L1019.47 774.87M1019.52 774.81L1022.28 771.37M1022.32 771.3L1025.08 767.78M1025.12 767.72L1027.88 764.27M1027.92 764.21L1030.68 760.65M1030.72 760.58L1033.48 756.98M1033.52 756.92L1036.28 753.25M1036.32 753.19L1039.08 749.5M1039.12 749.43L1041.88 745.74M1041.92 745.68L1044.68 741.87M1044.72 741.81L1047.48 738.07M1047.52 738L1050.28 734.13M1050.32 734.07L1053.08 730.17M1053.12 730.1L1055.88 726.09M1055.92 726.03L1058.68 722.04M1058.72 721.97L1061.48 717.93M1061.52 717.86L1064.28 713.71M1064.32 713.64L1067.08 709.5M1067.12 709.44L1069.88 705.38M1069.92 705.31L1072.68 701M1072.72 700.94L1075.48 696.66M1075.52 696.6L1078.28 692.32M1078.32 692.25L1081.08 687.88M1081.12 687.81L1083.88 683.46M1083.92 683.4L1086.68 678.93M1086.72 678.86L1089.48 674.46M1089.52 674.39L1092.28 669.76M1092.32 669.7L1095.08 665.19M1095.12 665.12L1097.88 660.42M1097.92 660.35L1100.68 655.73M1100.72 655.66L1103.48 650.93M1103.52 650.86L1106.28 646.09M1106.32 646.02L1109.08 641.1M1109.12 641.03L1111.88 636.25M1111.92 636.18L1114.68 631.18M1114.72 631.11L1117.48 626.19M1117.52 626.12L1120.28 621.08M1120.32 621.01L1123.08 616.06M1123.12 615.99L1125.88 610.89M1125.92 610.82L1128.68 605.8M1128.72 605.73L1131.48 600.67M1131.52 600.6L1134.28 595.43M1134.32 595.36L1137.08 590.18M1137.12 590.11L1139.88 584.81M1139.92 584.74L1142.68 579.58M1142.72 579.51L1145.48 574.18M1145.52 574.11L1148.28 568.89M1148.32 568.82L1151.08 563.4M1151.12 563.33L1153.88 557.99M1153.92 557.92L1156.68 552.62M1156.72 552.55L1159.48 547.15M1159.52 547.08L1162.28 541.6M1162.32 541.53L1165.08 536.14M1165.12 536.07L1167.88 530.64M1167.92 530.57L1170.68 525.09M1170.72 525.02L1173.48 519.52M1173.52 519.44L1176.28 513.93M1176.32 513.85L1179.08 508.44M1179.12 508.37L1181.88 502.82M1181.92 502.75L1184.68 497.22M1184.72 497.15L1187.48 491.64M1187.52 491.57L1190.28 486.01M1190.32 485.93L1193.08 480.41M1193.12 480.33L1195.88 474.83M1195.92 474.76L1198.68 469.16M1198.72 469.09L1201.48 463.56M1201.52 463.49L1204.28 457.97M1204.32 457.9L1207.08 452.39M1207.12 452.32L1209.88 446.8M1209.92 446.73L1212.68 441.25M1212.72 441.18L1215.48 435.72M1215.52 435.64L1218.28 430.15M1218.32 430.08L1221.08 424.61M1221.12 424.54L1223.88 419.03M1223.92 418.96L1226.68 413.53M1226.72 413.46L1229.48 408.03M1229.52 407.96L1232.28 402.59M1232.32 402.52L1235.08 397.17M1235.12 397.1L1237.88 391.8M1237.92 391.73L1240.68 386.45M1240.72 386.38L1243.48 381.22M1243.52 381.15L1246.28 375.9M1246.32 375.83L1249.08 370.67M1249.12 370.59L1251.88 365.4M1251.92 365.33L1254.68 360.25M1254.72 360.18L1257.48 355.12M1257.52 355.05L1260.28 350.02M1260.32 349.95L1263.08 344.98M1263.12 344.91L1265.88 339.94M1265.92 339.87L1268.68 334.95M1268.72 334.88L1271.48 330.02M1271.52 329.95L1274.28 325.15M1274.32 325.08L1277.08 320.41M1277.12 320.34L1279.88 315.66M1279.92 315.59L1282.68 310.92M1282.72 310.85L1285.48 306.39M1285.52 306.32L1288.28 301.71M1288.32 301.64L1291.08 297.25M1291.12 297.18L1293.88 292.79M1293.92 292.72L1296.68 288.38M1296.72 288.31L1299.48 284.11M1299.52 284.04L1302.28 279.84M1302.32 279.77L1305.08 275.56M1305.12 275.49L1307.88 271.44M1307.92 271.38L1310.68 267.39M1310.72 267.32L1313.48 263.35M1313.52 263.28L1316.28 259.44M1316.32 259.37L1319.08 255.6M1319.12 255.53L1321.88 251.87M1321.92 251.81L1324.68 248.11M1324.72 248.05L1327.48 244.58M1327.52 244.52L1330.28 240.97M1330.33 240.91L1333.07 237.59M1333.13 237.53L1335.87 234.24M1335.93 234.18L1338.67 230.85M1338.73 230.79L1341.47 227.71M1341.53 227.65L1344.27 224.61M1344.33 224.55L1347.07 221.54M1347.13 221.48L1349.87 218.55M1349.93 218.49L1352.67 215.69M1352.73 215.63L1355.47 212.85M1355.53 212.79L1358.27 210.08M1358.33 210.02L1361.07 207.38M1361.13 207.32L1363.87 204.84M1363.93 204.78L1366.67 202.22M1366.73 202.17L1369.47 199.72M1369.53 199.66L1372.27 197.29M1372.33 197.24L1375.07 194.96M1375.13 194.91L1377.87 192.61M1377.93 192.56L1380.67 190.43M1380.73 190.38L1383.47 188.31M1383.53 188.26L1386.27 186.09M1386.33 186.04L1389.07 184.02M1389.13 183.97L1391.87 182.01M1391.93 181.96L1394.67 180.15M1394.73 180.11L1397.47 178.29M1397.53 178.24L1400.27 176.43M1400.33 176.39L1403.07 174.63M1403.13 174.59L1405.87 172.87M1405.93 172.83L1408.67 171.25M1408.73 171.21L1411.47 169.69M1411.53 169.65L1414.27 168.12M1414.34 168.09L1417.06 166.62M1417.14 166.59L1419.86 165.17M1419.94 165.14L1422.66 163.75M1422.74 163.71L1425.46 162.39M1425.54 162.36L1428.26 161.15M1428.34 161.12L1431.06 159.81M1431.14 159.78L1433.86 158.64M1433.94 158.61L1436.66 157.43M1436.74 157.4L1439.46 156.34M1439.54 156.31L1442.26 155.22M1442.34 155.19L1445.06 154.15M1445.14 154.12L1447.86 153.06M1447.94 153.04L1450.66 152.16M1450.74 152.14L1453.46 151.26M1453.54 151.24L1456.26 150.35M1456.34 150.33L1459.06 149.51M1459.14 149.49L1461.86 148.65M1461.94 148.62L1464.66 147.84M1464.74 147.82L1467.46 147.09M1467.54 147.07L1470.26 146.29M1470.34 146.27L1473.06 145.66M1473.14 145.64L1475.86 144.92M1475.94 144.91L1478.66 144.32M1478.74 144.3L1481.46 143.69M1481.54 143.67L1484.26 143.14M1484.34 143.12L1487.06 142.53M1487.14 142.51L1489.86 142.08M1489.94 142.07L1492.66 141.6M1492.74 141.59L1495.46 141.16M1495.54 141.15L1498.26 140.72M1498.34 140.7L1501.06 140.2M1501.14 140.19L1503.86 139.86M1503.94 139.85L1506.66 139.4M1506.74 139.39L1509.46 139.11M1509.54 139.1L1512.26 138.64M1512.34 138.63L1515.06 138.29M1515.14 138.28L1517.86 138.02M1517.94 138.01L1520.66 137.65M1520.74 137.64L1523.46 137.43M1523.54 137.43L1526.26 137.16M1526.34 137.15L1529.06 136.79M1529.14 136.78L1531.86 136.59M1531.94 136.58L1534.66 136.28M1534.74 136.27L1537.46 136.09M1537.54 136.08L1540.26 135.75M1540.34 135.75L1543.06 135.63M1543.14 135.62L1545.86 135.37M1545.94 135.36L1548.66 135.13M1548.74 135.13L1551.46 134.94M1551.54 134.94L1554.26 134.71M1554.34 134.7L1557.06 134.52M1557.14 134.52L1559.86 134.37M1559.94 134.37L1562.66 134.18M1562.74 134.17L1565.46 134.01M1565.54 134L1568.26 133.78M1568.34 133.78L1571.06 133.55M1571.14 133.54L1573.86 133.35M1573.94 133.34L1576.66 133.14M1576.74 133.14L1579.46 133.07M1579.54 133.07L1582.26 132.87M1582.34 132.87L1585.06 132.64M1585.14 132.63L1587.86 132.54M1587.94 132.54L1590.66 132.42M1590.74 132.42L1593.46 132.24M1593.54 132.23L1596.26 132.08M1596.34 132.08L1599.06 132.01M1599.14 132L1601.86 131.87M1601.94 131.86L1604.66 131.69M1604.74 131.68L1607.46 131.49M1607.54 131.49L1610.26 131.42M1610.34 131.42L1613.06 131.29M1613.14 131.29L1615.86 131.19M1615.94 131.19L1618.66 131.01M1618.74 131.01L1621.46 130.87M1621.54 130.87L1624.26 130.69M1624.34 130.69L1627.06 130.56M1627.14 130.56L1629.86 130.48M1629.94 130.47L1632.66 130.43M1632.74 130.43L1635.46 130.25M1635.54 130.25L1638.26 130.23M1638.34 130.23L1641.06 130.11M1641.14 130.1L1643.86 129.98M1643.94 129.97L1646.66 129.92M1646.74 129.92L1649.46 129.83M1649.54 129.83L1652.26 129.66M1652.34 129.65L1655.06 129.63M1655.14 129.63L1657.86 129.52M1657.94 129.52L1660.66 129.47M1660.74 129.46L1663.46 129.29M1663.54 129.29L1666.26 129.23M1666.34 129.23L1669.06 129.17M1669.14 129.17L1671.86 129.03M1671.94 129.03L1674.66 129.01M1674.74 129L1677.46 128.92M1677.54 128.91L1680.26 128.86M1680.34 128.85L1683.06 128.73M1683.14 128.73L1685.86 128.63M1685.94 128.63L1688.66 128.61M1688.74 128.61L1691.46 128.56M1691.54 128.56L1694.26 128.53M1694.34 128.53L1697.06 128.45M1697.14 128.45L1699.86 128.39M1699.94 128.39L1702.66 128.37M1702.74 128.37L1705.46 128.34M1705.54 128.34L1708.26 128.25M1708.34 128.25L1711.06 128.17M1711.14 128.17L1713.86 128.1M1713.94 128.1L1716.66 128.14M1716.74 128.14L1719.46 128.03M1719.54 128.03L1722.26 128.01M1722.34 128.01L1725.06 128.05M1725.14 128.04L1727.86 127.93M1727.94 127.93L1730.66 127.92M1730.74 127.92L1733.46 127.91M1733.54 127.9L1736.26 127.82M1736.34 127.82L1739.06 127.81M1739.14 127.81L1741.86 127.81M1741.94 127.8L1744.66 127.75M1744.74 127.75L1747.46 127.7M1747.54 127.7L1750.26 127.76M1750.34 127.77L1753.06 127.73M1753.14 127.73L1755.86 127.66M1755.94 127.66L1758.66 127.68M1758.74 127.68L1761.46 127.65M1761.54 127.65L1764.26 127.63M1764.34 127.63L1767.06 127.6M1767.14 127.6L1769.86 127.58M1769.94 127.58L1772.66 127.49M1772.74 127.49L1775.46 127.52M1775.54 127.52L1778.26 127.46M1778.34 127.46L1781.06 127.46M1781.14 127.46L1783.86 127.4M1783.94 127.4L1786.66 127.47M1786.74 127.47L1789.46 127.43M1789.54 127.43L1792.26 127.46M1792.34 127.46L1795.06 127.41M1795.14 127.41L1797.86 127.44M1797.94 127.44L1800.66 127.39M1800.74 127.39L1803.46 127.36M1803.54 127.36L1806.26 127.39M1806.34 127.39L1809.06 127.42M1809.14 127.42L1811.86 127.36M1811.94 127.36L1814.66 127.44M1814.74 127.44L1817.46 127.39M1817.54 127.39L1820.26 127.41M1820.34 127.41L1823.06 127.37M1823.14 127.37L1825.86 127.39M1825.94 127.39L1828.66 127.39M1828.74 127.39L1831.46 127.36M1831.54 127.36L1834.26 127.3M1834.34 127.3L1837.06 127.38M1837.14 127.38L1839.86 127.38M1839.94 127.38L1842.66 127.39M1842.74 127.39L1845.46 127.35M1845.54 127.35L1848.26 127.39M1848.34 127.39L1851.06 127.37M1851.14 127.37L1853.86 127.43M1853.94 127.43L1856.66 127.37M1856.74 127.37L1859.46 127.4M1859.54 127.41L1862.26 127.42M1862.34 127.42L1865.06 127.53M1865.14 127.53L1867.86 127.53M1867.94 127.53L1870.66 127.51M1870.74 127.51L1873.46 127.55M1873.54 127.55L1876.26 127.46M1876.34 127.46L1879.06 127.5M1879.14 127.5L1881.86 127.5M1881.94 127.5L1884.66 127.44M1884.74 127.44L1887.46 127.47M1887.54 127.47L1890.26 127.41M1890.34 127.41L1893.06 127.44M1893.14 127.44L1895.86 127.43M1895.94 127.43L1898.66 127.46M1898.74 127.47L1901.46 127.55M1901.54 127.55L1904.26 127.51M1904.34 127.51L1907.06 127.51M1907.14 127.51L1909.86 127.47M1909.94 127.47L1912.66 127.47M1912.74 127.47L1915.46 127.47M1915.54 127.48L1918.26 127.53M1918.34 127.53L1921.06 127.49M1921.14 127.49L1923.86 127.47M1923.94 127.47L1926.66 127.43M1926.74 127.42L1929.46 127.36M1929.54 127.36L1932.26 127.37M1932.34 127.37L1935.06 127.34M1935.14 127.34L1937.86 127.4M1937.94 127.4L1940.66 127.39M1940.74 127.39L1943.46 127.39M1943.54 127.39L1946.26 127.37M1946.34 127.36L1949.06 127.39M1949.14 127.39L1951.86 127.38M1951.94 127.38L1954.66 127.3M1954.74 127.3L1957.46 127.3M1957.54 127.3L1960.26 127.3M1960.34 127.31L1963.06 127.39M1963.14 127.39L1965.86 127.28M1965.94 127.28L1968.66 127.3M1968.74 127.3L1971.46 127.29M1971.54 127.29L1974.26 127.22M1974.34 127.22L1977.06 127.19M1977.14 127.19L1979.86 127.23M1979.94 127.23L1982.66 127.1M1982.74 127.1L1985.46 127.15M1985.54 127.15L1988.26 127.09M1988.34 127.09L1991.06 127.07M1991.14 127.07L1993.86 127M1993.94 127L1996.66 127.02M1996.74 127.01L1999.46 126.99M1999.54 126.99L2002.26 126.92M2002.34 126.92L2005.06 126.87M2005.14 126.87L2007.86 126.85M2007.94 126.85L2010.66 126.85M2010.74 126.85L2013.46 126.71M2013.54 126.71L2016.26 126.69M2016.34 126.69L2019.06 126.67M2019.14 126.67L2021.86 126.65M2021.94 126.65L2024.66 126.56M2024.74 126.56L2027.46 126.46M2027.54 126.46L2030.26 126.48M2030.34 126.47L2033.06 126.37M2033.14 126.37L2035.86 126.34M2035.94 126.34L2038.66 126.23" fill="none" stroke="#ff00ff" stroke-width="7" stroke-linecap="butt"/>
<path d="M211 1090.9L230.8 1056.6H191.2Z" fill="#ff00ff" stroke="#ff00ff" stroke-width="1" stroke-linejoin="round"/>
<path d="M393.6 1072.3L413.4 1038H373.8Z" fill="#ff00ff" stroke="#ff00ff" stroke-width="1" stroke-linejoin="round"/>
<path d="M576.3 1041.4L596.1 1007.1H556.5Z" fill="#ff00ff" stroke="#ff00ff" stroke-width="1" stroke-linejoin="round"/>
<path d="M759 988.3L778.8 954H739.2Z" fill="#ff00ff" stroke="#ff00ff" stroke-width="1" stroke-linejoin="round"/>
<path d="M941.5 880.2L961.3 845.9H921.7Z" fill="#ff00ff" stroke="#ff00ff" stroke-width="1" stroke-linejoin="round"/>
<path d="M1124.4 636.6L1144.2 602.3H1104.6Z" fill="#ff00ff" stroke="#ff00ff" stroke-width="1" stroke-linejoin="round"/>
<path d="M1306.8 295.9L1326.6 261.6H1287Z" fill="#ff00ff" stroke="#ff00ff" stroke-width="1" stroke-linejoin="round"/>
<path d="M1489.5 165.1L1509.3 130.8H1469.7Z" fill="#ff00ff" stroke="#ff00ff" stroke-width="1" stroke-linejoin="round"/>
<path d="M1672.3 151.9L1692.1 117.6H1652.5Z" fill="#ff00ff" stroke="#ff00ff" stroke-width="1" stroke-linejoin="round"/>
<path d="M1855 150.3L1874.8 116H1835.2Z" fill="#ff00ff" stroke="#ff00ff" stroke-width="1" stroke-linejoin="round"/>
<path d="M2038 149.2L2057.8 114.9H2018.2Z" fill="#ff00ff" stroke="#ff00ff" stroke-width="1" stroke-linejoin="round"/>
<path d="M204.74 840.35L207.46 840.68M207.54 840.67L210.26 839.71M210.34 839.7L213.06 839.7M213.14 839.7L215.86 839.57M215.94 839.56L218.66 838.84M218.74 838.83L221.46 838.73M221.54 838.72L224.26 838.23M224.34 838.22L227.06 838.12M227.14 838.1L229.86 836.63M229.94 836.61L232.66 836.22M232.74 836.22L235.46 836.84M235.54 836.84L238.26 835.97M238.34 835.95L241.06 834.98M241.14 834.97L243.86 835.03M243.94 835.02L246.66 834.18M246.74 834.17L249.46 834.2M249.54 834.2L252.26 833.83M252.34 833.82L255.06 833.27M255.14 833.26L257.86 832.92M257.94 832.92L260.66 832.9M260.74 832.9L263.46 832.93M263.54 832.93L266.26 832.47M266.34 832.46L269.06 832.51M269.14 832.51L271.86 832.32M271.94 832.3L274.66 831.04M274.74 831.02L277.46 830.98M277.54 830.98L280.26 830.58M280.34 830.57L283.06 830.83M283.14 830.83L285.86 830.29M285.94 830.27L288.66 829.79M288.74 829.78L291.46 828.97M291.54 828.97L294.26 829.24M294.34 829.24L297.06 829.23M297.14 829.22L299.86 828.27M299.94 828.25L302.66 828.27M302.74 828.25L305.46 827.34M305.54 827.33L308.26 827.05M308.34 827.05L311.06 827.2M311.14 827.19L313.86 826.18M313.94 826.15L316.66 825.67M316.74 825.66L319.46 825.3M319.54 825.3L322.26 825.31M322.34 825.31L325.06 825.33M325.14 825.32L327.86 823.99M327.94 823.97L330.66 823.94M330.74 823.93L333.46 823.49M333.54 823.48L336.26 823.14M336.34 823.13L339.06 822.61M339.14 822.6L341.86 822.47M341.94 822.46L344.66 821.87M344.74 821.87L347.46 822.41M347.54 822.4L350.26 821.1M350.34 821.09L353.06 821.24M353.14 821.24L355.86 820.89M355.94 820.88L358.66 820.45M358.74 820.44L361.46 819.85M361.54 819.84L364.26 819.52M364.34 819.52L367.06 819.82M367.14 819.81L369.86 818.39M369.94 818.36L372.66 817.85M372.74 817.84L375.46 817.65M375.54 817.65L378.26 817.82M378.34 817.82L381.06 817.4M381.14 817.39L383.86 817.21M383.94 817.2L386.66 816.48M386.74 816.47L389.46 816.07M389.54 816.06L392.26 816.01M392.34 816L395.06 815.4M395.14 815.39L397.86 815.5M397.94 815.5L400.66 814.93M400.74 814.92L403.46 814.46M403.54 814.45L406.26 813.87M406.34 813.86L409.06 814.04M409.14 814.04L411.86 813.67M411.94 813.66L414.66 813.35M414.74 813.33L417.46 812.67M417.54 812.66L420.26 812.72M420.34 812.71L423.06 811.96M423.14 811.94L425.86 811.02M425.94 811L428.66 810.55M428.74 810.55L431.46 810.77M431.54 810.76L434.26 809.93M434.34 809.91L437.06 809.32M437.14 809.3L439.86 808.39M439.94 808.39L442.66 809.12M442.74 809.12L445.46 808.19M445.54 808.18L448.26 808.04M448.34 808.04L451.06 807.87M451.14 807.86L453.86 807.39M453.94 807.38L456.66 806.93M456.74 806.91L459.46 806.23M459.54 806.22L462.26 806.46M462.34 806.45L465.06 805.68M465.14 805.66L467.86 805.21M467.94 805.2L470.66 805.08M470.74 805.08L473.46 804.69M473.54 804.67L476.26 804M476.34 803.98L479.06 803.56M479.14 803.54L481.86 802.69M481.94 802.69L484.66 802.99M484.74 802.99L487.46 802.49M487.54 802.47L490.26 801.55M490.34 801.53L493.06 800.91M493.14 800.9L495.86 800.96M495.94 800.95L498.66 800.25M498.74 800.24L501.46 800.26M501.54 800.25L504.26 799.59M504.34 799.56L507.06 798.62M507.14 798.6L509.86 798.49M509.94 798.48L512.66 798.15M512.74 798.14L515.46 797.68M515.54 797.67L518.26 797.47M518.34 797.46L521.06 796.91M521.14 796.88L523.86 795.93M523.94 795.92L526.66 796.07M526.74 796.05L529.46 795.01M529.54 795L532.26 795.02M532.34 795.01L535.06 794.83M535.14 794.81L537.86 793.85M537.94 793.83L540.66 793.91M540.74 793.89L543.46 792.89M543.54 792.87L546.26 792.43M546.34 792.41L549.06 791.89M549.14 791.88L551.86 791.63M551.94 791.63L554.66 791.39M554.74 791.37L557.46 790.26M557.54 790.25L560.26 790.4M560.34 790.39L563.06 789.88M563.14 789.86L565.86 788.94M565.94 788.92L568.66 788.52M568.74 788.51L571.46 788.35M571.54 788.33L574.26 787.63M574.34 787.62L577.06 787.22M577.14 787.2L579.86 786.32M579.94 786.3L582.66 785.68M582.74 785.66L585.46 784.92M585.54 784.89L588.26 783.91M588.34 783.9L591.06 784.14M591.14 784.13L593.86 783.24M593.94 783.22L596.66 782.09M596.74 782.08L599.46 782.31M599.54 782.31L602.26 781.92M602.34 781.9L605.06 780.86M605.14 780.84L607.86 780.74M607.94 780.73L610.66 779.42M610.74 779.41L613.46 779.51M613.54 779.51L616.26 779.05M616.34 779.03L619.06 778.29M619.14 778.27L621.86 777.43M621.94 777.4L624.66 776.46M624.74 776.45L627.46 776.35M627.54 776.34L630.26 775.36M630.34 775.34L633.06 775.04M633.14 775.03L635.86 774.85M635.94 774.83L638.66 773.87M638.74 773.85L641.46 773.53M641.54 773.51L644.26 772.45M644.34 772.44L647.06 772.67M647.14 772.67L649.86 772.31M649.94 772.29L652.66 771.2M652.74 771.18L655.46 770.5M655.54 770.49L658.26 770.22M658.34 770.2L661.06 769.22M661.14 769.2L663.86 768.74M663.94 768.72L666.66 767.89M666.74 767.87L669.46 766.87M669.54 766.84L672.26 766.01M672.34 765.99L675.06 765.71M675.14 765.7L677.86 765.17M677.94 765.15L680.66 764.28M680.74 764.26L683.46 763.64M683.54 763.62L686.26 762.77M686.34 762.76L689.06 762.41M689.14 762.4L691.86 761.55M691.94 761.52L694.66 760.47M694.74 760.46L697.46 760.44M697.54 760.42L700.26 759.23M700.34 759.2L703.06 758.47M703.14 758.45L705.86 757.98M705.94 757.97L708.66 757.89M708.74 757.87L711.46 756.59M711.54 756.56L714.26 755.84M714.34 755.82L717.06 755.4M717.14 755.39L719.86 754.88M719.94 754.86L722.66 754.06M722.74 754.04L725.46 753.46M725.53 753.43L728.27 751.57M728.34 751.54L731.06 751.42M731.14 751.41L733.86 750.34M733.94 750.32L736.66 749.69M736.74 749.67L739.46 748.9M739.54 748.88L742.26 748.43M742.34 748.42L745.06 747.87M745.14 747.85L747.86 746.92M747.94 746.89L750.66 745.46M750.74 745.44L753.46 745.3M753.54 745.29L756.26 744.76M756.34 744.73L759.06 743.39M759.14 743.36L761.86 742.23M761.94 742.21L764.66 741.36M764.74 741.34L767.46 740.77M767.54 740.75L770.26 739.51M770.34 739.48L773.06 738.49M773.14 738.46L775.86 737.31M775.94 737.28L778.66 736.24M778.74 736.22L781.46 735.83M781.54 735.8L784.26 734.3M784.34 734.27L787.06 733.78M787.14 733.76L789.86 733.24M789.94 733.22L792.66 732.76M792.74 732.74L795.46 731.95M795.53 731.92L798.27 730.2M798.34 730.17L801.06 729.55M801.14 729.53L803.86 728.88M803.94 728.86L806.66 728.01M806.74 727.99L809.46 727.34M809.54 727.33L812.26 726.91M812.33 726.88L815.07 725.15M815.14 725.12L817.86 724.56M817.94 724.54L820.66 723.39M820.74 723.37L823.46 722.74M823.53 722.71L826.27 720.94M826.34 720.91L829.06 719.91M829.13 719.88L831.87 718.07M831.94 718.03L834.66 717.19M834.74 717.16L837.46 715.92M837.54 715.89L840.26 715.23M840.34 715.2L843.06 714.13M843.13 714.09L845.87 712.47M845.94 712.44L848.66 711.49M848.74 711.46L851.46 710.53M851.54 710.5L854.26 709.18M854.34 709.15L857.06 708.5M857.13 708.46L859.87 706.38M859.94 706.34L862.66 705.09M862.74 705.07L865.46 704.4M865.54 704.38L868.26 703.21M868.33 703.17L871.07 701.37M871.14 701.33L873.86 700M873.94 699.97L876.66 698.69M876.74 698.66L879.46 697.4M879.54 697.36L882.26 695.97M882.34 695.94L885.06 694.5M885.13 694.46L887.87 692.91M887.94 692.88L890.66 691.94M890.73 691.91L893.47 689.66M893.54 689.62L896.26 688.75M896.33 688.72L899.07 686.59M899.14 686.55L901.86 685.5M901.93 685.46L904.67 683.62M904.73 683.58L907.47 682.03M907.53 681.99L910.27 680.17M910.34 680.13L913.06 678.85M913.13 678.8L915.87 676.51M915.94 676.46L918.66 675M918.73 674.96L921.47 673.07M921.53 673.03L924.27 671.24M924.34 671.2L927.06 670.12M927.13 670.08L929.87 668.04M929.93 668L932.67 666.16M932.74 666.11L935.46 664.71M935.53 664.67L938.27 662.74M938.33 662.69L941.07 660.71M941.13 660.66L943.87 658.55M943.93 658.5L946.67 656.5M946.73 656.45L949.47 654.54M949.53 654.49L952.27 652.68M952.33 652.63L955.07 650.69M955.13 650.64L957.87 648.37M957.93 648.32L960.67 646.11M960.73 646.06L963.47 643.86M963.53 643.81L966.27 641.94M966.33 641.89L969.07 639.67M969.13 639.62L971.87 637.31M971.93 637.26L974.67 635.06M974.73 635.01L977.47 632.55M977.53 632.49L980.27 630.31M980.33 630.26L983.07 628.17M983.13 628.12L985.87 625.45M985.93 625.4L988.67 623.22M988.73 623.17L991.47 620.64M991.53 620.59L994.27 618.23M994.33 618.18L997.07 615.58M997.13 615.52L999.87 612.98" fill="none" stroke="#008000" stroke-width="6.8" stroke-linecap="butt"/>
<path d="M999.93 612.93L1002.67 610.52M1002.73 610.47L1005.47 607.9M1005.53 607.85L1008.27 605.19M1008.33 605.13L1011.07 602.55M1011.13 602.5L1013.87 599.8M1013.93 599.74L1016.67 597.04M1016.73 596.99L1019.47 594.25M1019.53 594.2L1022.27 591.47M1022.33 591.41L1025.07 588.64M1025.13 588.58L1027.87 585.72M1027.93 585.66L1030.67 582.85M1030.73 582.8L1033.47 580M1033.53 579.94L1036.27 576.94M1036.33 576.89L1039.07 574.05M1039.13 573.99L1041.87 571.01M1041.93 570.95L1044.67 568.06M1044.73 568.01L1047.47 565M1047.53 564.95L1050.27 561.93M1050.33 561.87L1053.07 558.77M1053.13 558.71L1055.87 555.61M1055.93 555.55L1058.67 552.47M1058.73 552.41L1061.47 549.27M1061.53 549.21L1064.27 545.99M1064.33 545.93L1067.07 542.71M1067.13 542.64L1069.87 539.47M1069.93 539.41L1072.67 536.12M1072.73 536.05L1075.47 532.86M1075.53 532.8L1078.27 529.45M1078.33 529.39L1081.07 526.16M1081.13 526.1L1083.87 522.72M1083.93 522.66L1086.67 519.27M1086.73 519.21L1089.47 515.89M1089.52 515.83L1092.28 512.39M1092.33 512.33L1095.07 508.97M1095.12 508.9L1097.88 505.33M1097.92 505.26L1100.68 501.8M1100.72 501.73L1103.48 498.21M1103.52 498.15L1106.28 494.63M1106.32 494.57L1109.08 490.96M1109.12 490.9L1111.88 487.33M1111.92 487.26L1114.68 483.66M1114.72 483.6L1117.48 479.91M1117.52 479.84L1120.28 476.29M1120.32 476.23L1123.08 472.46M1123.12 472.4L1125.88 468.79M1125.92 468.72L1128.68 464.96M1128.72 464.9L1131.48 461.14M1131.52 461.07L1134.28 457.29M1134.32 457.23L1137.08 453.42M1137.12 453.36L1139.88 449.52M1139.92 449.45L1142.68 445.63M1142.72 445.57L1145.48 441.76M1145.52 441.7L1148.28 437.75M1148.32 437.68L1151.08 433.81M1151.12 433.74L1153.88 429.82M1153.92 429.75L1156.68 425.77M1156.72 425.7L1159.48 421.71M1159.52 421.64L1162.28 417.74M1162.32 417.67L1165.08 413.63M1165.12 413.57L1167.88 409.53M1167.92 409.46L1170.68 405.43M1170.72 405.37L1173.48 401.32M1173.52 401.26L1176.28 397.09M1176.32 397.03L1179.08 392.91M1179.12 392.85L1181.88 388.65M1181.92 388.58L1184.68 384.43M1184.72 384.36L1187.48 380.22M1187.52 380.15L1190.28 375.98M1190.32 375.91L1193.08 371.74M1193.12 371.67L1195.88 367.45M1195.92 367.38L1198.68 363.13M1198.72 363.06L1201.48 358.92M1201.52 358.85L1204.28 354.63M1204.32 354.56L1207.08 350.32M1207.12 350.25L1209.88 345.97M1209.92 345.91L1212.68 341.78M1212.72 341.71L1215.48 337.53M1215.52 337.46L1218.28 333.21M1218.32 333.14L1221.08 328.9M1221.12 328.83L1223.88 324.57M1223.92 324.5L1226.68 320.32M1226.72 320.26L1229.48 316.04M1229.52 315.98L1232.28 311.94M1232.32 311.87L1235.08 307.73M1235.12 307.66L1237.88 303.6M1237.92 303.53L1240.68 299.36M1240.72 299.29L1243.48 295.3M1243.52 295.23L1246.28 291.31M1246.32 291.24L1249.08 287.2M1249.12 287.13L1251.88 283.05M1251.92 282.99L1254.68 279.06M1254.72 279L1257.48 275.17M1257.52 275.11L1260.28 271.13M1260.32 271.06L1263.08 267.22M1263.12 267.15L1265.88 263.24M1265.92 263.17L1268.68 259.5M1268.72 259.44L1271.48 255.65M1271.52 255.59L1274.28 251.81M1274.32 251.75L1277.08 248.08M1277.12 248.02L1279.88 244.44M1279.92 244.38L1282.68 240.82M1282.72 240.76L1285.48 237.26M1285.52 237.19L1288.28 233.69M1288.33 233.63L1291.07 230.22M1291.13 230.16L1293.87 226.76M1293.93 226.7L1296.67 223.42M1296.73 223.36L1299.47 220.12M1299.53 220.06L1302.27 216.94M1302.33 216.88L1305.07 213.75M1305.13 213.69L1307.87 210.7M1307.93 210.64L1310.67 207.61M1310.73 207.55L1313.47 204.63M1313.53 204.57L1316.27 201.79M1316.33 201.73L1319.07 198.97M1319.13 198.92L1321.87 196.32M1321.93 196.27L1324.67 193.61M1324.73 193.56L1327.47 191.03M1327.53 190.97L1330.27 188.47M1330.33 188.42L1333.07 186.05M1333.13 186L1335.87 183.74M1335.93 183.69L1338.67 181.45M1338.73 181.4L1341.47 179.19M1341.53 179.14L1344.27 177.02M1344.33 176.97L1347.07 175.06M1347.13 175.01L1349.87 172.99M1349.93 172.94L1352.67 171.1M1352.73 171.05L1355.47 169.15M1355.53 169.11L1358.27 167.46M1358.33 167.42L1361.07 165.65M1361.13 165.61L1363.87 164M1363.93 163.96L1366.67 162.41M1366.73 162.37L1369.47 160.72M1369.54 160.68L1372.26 159.18M1372.34 159.14L1375.06 157.74M1375.14 157.7L1377.86 156.33M1377.94 156.29L1380.66 155.02M1380.74 154.99L1383.46 153.73M1383.54 153.69L1386.26 152.51M1386.34 152.48L1389.06 151.36M1389.14 151.33L1391.86 150.15M1391.94 150.12L1394.66 149.12M1394.74 149.09L1397.46 148.02M1397.54 147.99L1400.26 147.09M1400.34 147.06L1403.06 146.17M1403.14 146.15L1405.86 145.14M1405.94 145.12L1408.66 144.33M1408.74 144.31L1411.46 143.54M1411.54 143.52L1414.26 142.71M1414.34 142.69L1417.06 141.84M1417.14 141.82L1419.86 141.14M1419.94 141.12L1422.66 140.39M1422.74 140.37L1425.46 139.71M1425.54 139.7L1428.26 138.99M1428.34 138.97L1431.06 138.47M1431.14 138.46L1433.86 137.88M1433.94 137.86L1436.66 137.27M1436.74 137.25L1439.46 136.76M1439.54 136.74L1442.26 136.26M1442.34 136.25L1445.06 135.86M1445.14 135.85L1447.86 135.38M1447.94 135.36L1450.66 134.91M1450.74 134.9L1453.46 134.61M1453.54 134.6L1456.26 134.11M1456.34 134.1L1459.06 133.77M1459.14 133.76L1461.86 133.39M1461.94 133.38L1464.66 133.06M1464.74 133.05L1467.46 132.8M1467.54 132.79L1470.26 132.52M1470.34 132.52L1473.06 132.32M1473.14 132.32L1475.86 132.01M1475.94 132.01L1478.66 131.86M1478.74 131.85L1481.46 131.6M1481.54 131.59L1484.26 131.43M1484.34 131.43L1487.06 131.3M1487.14 131.29L1489.86 131.15M1489.94 131.15L1492.66 130.97M1492.74 130.97L1495.46 130.79M1495.54 130.79L1498.26 130.62M1498.34 130.62L1501.06 130.52M1501.14 130.51L1503.86 130.46M1503.94 130.46L1506.66 130.44M1506.74 130.44L1509.46 130.31M1509.54 130.3L1512.26 130.26M1512.34 130.26L1515.06 130.12M1515.14 130.12L1517.86 130.22M1517.94 130.22L1520.66 130.16M1520.74 130.16L1523.46 130.09M1523.54 130.09L1526.26 130.02M1526.34 130.02L1529.06 129.98M1529.14 129.98L1531.86 130M1531.94 130L1534.66 130.02M1534.74 130.02L1537.46 129.91M1537.54 129.91L1540.26 129.96M1540.34 129.96L1543.06 129.99M1543.14 129.99L1545.86 130.01M1545.94 130.01L1548.66 129.98M1548.74 129.98L1551.46 129.94M1551.54 129.94L1554.26 130.06M1554.34 130.06L1557.06 130.04M1557.14 130.04L1559.86 130.06M1559.94 130.06L1562.66 130.05M1562.74 130.05L1565.46 130.11M1565.54 130.11L1568.26 130.13M1568.34 130.13L1571.06 130.05M1571.14 130.05L1573.86 130.14M1573.94 130.15L1576.66 130.18M1576.74 130.18L1579.46 130.08M1579.54 130.08L1582.26 130.08M1582.34 130.08L1585.06 130.05M1585.14 130.05L1587.86 129.98M1587.94 129.98L1590.66 130.07M1590.74 130.07L1593.46 130.03M1593.54 130.03L1596.26 129.97M1596.34 129.97L1599.06 130.06M1599.14 130.07L1601.86 130.01M1601.94 130.01L1604.66 130.03M1604.74 130.03L1607.46 129.99M1607.54 129.99L1610.26 129.97M1610.34 129.97L1613.06 129.93M1613.14 129.93L1615.86 129.94M1615.94 129.94L1618.66 129.99M1618.74 129.99L1621.46 129.91M1621.54 129.91L1624.26 129.86M1624.34 129.85L1627.06 129.86M1627.14 129.86L1629.86 129.85M1629.94 129.85L1632.66 129.94M1632.74 129.94L1635.46 129.92M1635.54 129.92L1638.26 129.92M1638.34 129.92L1641.06 129.85M1641.14 129.85L1643.86 129.77M1643.94 129.77L1646.66 129.85M1646.74 129.85L1649.46 129.83M1649.54 129.83L1652.26 129.87M1652.34 129.87L1655.06 129.84M1655.14 129.84L1657.86 129.71M1657.94 129.71L1660.66 129.79M1660.74 129.79L1663.46 129.69M1663.54 129.69L1666.26 129.67M1666.34 129.67L1669.06 129.73M1669.14 129.73L1671.86 129.74M1671.94 129.74L1674.66 129.69M1674.74 129.69L1677.46 129.73M1677.54 129.73L1680.26 129.67M1680.34 129.67L1683.06 129.56M1683.14 129.56L1685.86 129.53M1685.94 129.53L1688.66 129.64M1688.74 129.64L1691.46 129.58M1691.54 129.58L1694.26 129.58M1694.34 129.58L1697.06 129.5M1697.14 129.5L1699.86 129.49M1699.94 129.49L1702.66 129.47M1702.74 129.47L1705.46 129.47M1705.54 129.47L1708.26 129.39M1708.34 129.39L1711.06 129.37M1711.14 129.37L1713.86 129.35M1713.94 129.35L1716.66 129.39M1716.74 129.39L1719.46 129.43M1719.54 129.43L1722.26 129.39M1722.34 129.38L1725.06 129.38M1725.14 129.38L1727.86 129.3M1727.94 129.3L1730.66 129.41M1730.74 129.41L1733.46 129.4M1733.54 129.4L1736.26 129.31M1736.34 129.31L1739.06 129.33M1739.14 129.33L1741.86 129.29M1741.94 129.29L1744.66 129.2M1744.74 129.2L1747.46 129.24M1747.54 129.24L1750.26 129.21M1750.34 129.21L1753.06 129.09M1753.14 129.09L1755.86 129.13M1755.94 129.13L1758.66 129.1M1758.74 129.1L1761.46 129.11M1761.54 129.11L1764.26 129.08M1764.34 129.08L1767.06 129.01M1767.14 129L1769.86 129.01M1769.94 129.01L1772.66 129.07M1772.74 129.07L1775.46 129.04M1775.54 129.04L1778.26 128.95M1778.34 128.95L1781.06 128.99M1781.14 128.99L1783.86 128.89M1783.94 128.89L1786.66 128.91M1786.74 128.91L1789.46 128.95M1789.54 128.95L1792.26 128.9M1792.34 128.9L1795.06 128.89M1795.14 128.89L1797.86 128.91M1797.94 128.91L1800.66 128.81M1800.74 128.81L1803.46 128.88M1803.54 128.88L1806.26 128.83M1806.34 128.83L1809.06 128.76M1809.14 128.76L1811.86 128.81M1811.94 128.81L1814.66 128.78M1814.74 128.78L1817.46 128.69M1817.54 128.69L1820.26 128.64M1820.34 128.64L1823.06 128.7M1823.14 128.7L1825.86 128.69M1825.94 128.69L1828.66 128.65M1828.74 128.65L1831.46 128.71M1831.54 128.71L1834.26 128.6M1834.34 128.6L1837.06 128.58M1837.14 128.58L1839.86 128.52M1839.94 128.52L1842.66 128.58M1842.74 128.58L1845.46 128.52M1845.54 128.52L1848.26 128.55M1848.34 128.55L1851.06 128.45M1851.14 128.45L1853.86 128.48M1853.94 128.48L1856.66 128.46M1856.74 128.46L1859.46 128.48M1859.54 128.48L1862.26 128.47M1862.34 128.47L1865.06 128.4M1865.14 128.4L1867.86 128.5M1867.94 128.51L1870.66 128.5M1870.74 128.5L1873.46 128.52M1873.54 128.52L1876.26 128.52M1876.34 128.52L1879.06 128.51M1879.14 128.51L1881.86 128.46M1881.94 128.46L1884.66 128.54M1884.74 128.54L1887.46 128.4M1887.54 128.4L1890.26 128.45M1890.34 128.45L1893.06 128.47M1893.14 128.47L1895.86 128.48M1895.94 128.48L1898.66 128.47M1898.74 128.47L1901.46 128.33M1901.54 128.33L1904.26 128.4M1904.34 128.4L1907.06 128.31M1907.14 128.31L1909.86 128.35M1909.94 128.35L1912.66 128.31M1912.74 128.31L1915.46 128.39M1915.54 128.39L1918.26 128.39M1918.34 128.39L1921.06 128.33M1921.14 128.33L1923.86 128.34M1923.94 128.34L1926.66 128.3M1926.74 128.3L1929.46 128.39M1929.54 128.39L1932.26 128.38M1932.34 128.38L1935.06 128.36M1935.14 128.35L1937.86 128.34M1937.94 128.33L1940.66 128.31M1940.74 128.31L1943.46 128.36M1943.54 128.36L1946.26 128.3M1946.34 128.3L1949.06 128.21M1949.14 128.21L1951.86 128.18M1951.94 128.18L1954.66 128.2M1954.74 128.2L1957.46 128.16M1957.54 128.16L1960.26 128.2M1960.34 128.2L1963.06 128.22M1963.14 128.22L1965.86 128.27M1965.94 128.27L1968.66 128.28M1968.74 128.28L1971.46 128.25M1971.54 128.25L1974.26 128.26M1974.34 128.26L1977.06 128.35M1977.14 128.35L1979.86 128.28M1979.94 128.28L1982.66 128.31M1982.74 128.31L1985.46 128.35M1985.54 128.35L1988.26 128.37M1988.34 128.37L1991.06 128.39M1991.14 128.39L1993.86 128.39M1993.94 128.39L1996.66 128.42M1996.74 128.42L1999.46 128.42M1999.54 128.42L2002.26 128.48M2002.34 128.48L2005.06 128.46M2005.14 128.46L2007.86 128.49M2007.94 128.49L2010.66 128.41M2010.74 128.41L2013.46 128.5M2013.54 128.5L2016.26 128.49M2016.34 128.49L2019.06 128.49M2019.14 128.49L2021.86 128.51M2021.94 128.52L2024.66 128.6M2024.74 128.6L2027.46 128.57M2027.54 128.57L2030.26 128.6M2030.34 128.6L2033.06 128.63M2033.14 128.63L2035.86 128.64M2035.94 128.64L2038.66 128.66" fill="none" stroke="#008000" stroke-width="7" stroke-linecap="butt"/>
<path d="M211 818.5L232.2 839.8L211 861L189.8 839.8Z" fill="#008000"/>
<path d="M393.6 794.4L414.9 815.6L393.6 836.9L372.4 815.6Z" fill="#008000"/>
<path d="M576.3 765.7L597.5 787L576.3 808.2L555 787Z" fill="#008000"/>
<path d="M759 722L780.2 743.3L759 764.5L737.8 743.3Z" fill="#008000"/>
<path d="M941.5 639L962.8 660.2L941.5 681.5L920.2 660.2Z" fill="#008000"/>
<path d="M1124.4 449.5L1145.7 470.7L1124.4 492L1103.2 470.7Z" fill="#008000"/>
<path d="M1306.8 190.7L1328 211.9L1306.8 233.2L1285.5 211.9Z" fill="#008000"/>
<path d="M1489.5 109.8L1510.8 131.1L1489.5 152.3L1468.2 131.1Z" fill="#008000"/>
<path d="M1672.3 108.4L1693.5 129.7L1672.3 150.9L1651 129.7Z" fill="#008000"/>
<path d="M1855 107.3L1876.2 128.5L1855 149.8L1833.8 128.5Z" fill="#008000"/>
<path d="M2038 107.4L2059.2 128.7L2038 149.9L2016.8 128.7Z" fill="#008000"/>
</g>
<g font-family="'Liberation Serif', serif" font-weight="bold" fill="#000">
<text transform="translate(160.3,146.05) scale(1,1.05)" font-size="60.3" text-anchor="end">0</text>
<text transform="translate(160.3,325.81) scale(1,1.05)" font-size="60.3" text-anchor="end">1</text>
<text transform="translate(160.3,505.58) scale(1,1.05)" font-size="60.3" text-anchor="end">2</text>
<text transform="translate(160.3,685.34) scale(1,1.05)" font-size="60.3" text-anchor="end">3</text>
<text transform="translate(160.3,865.11) scale(1,1.05)" font-size="60.3" text-anchor="end">4</text>
<text transform="translate(160.3,1044.87) scale(1,1.05)" font-size="60.3" text-anchor="end">5</text>
<text transform="translate(160.3,1224.64) scale(1,1.05)" font-size="60.3" text-anchor="end">6</text>
<text transform="translate(160.3,1404.40) scale(1,1.05)" font-size="60.3" text-anchor="end">7</text>
<text transform="translate(207.50,1478.8) scale(0.985,1.05)" font-size="60.3" text-anchor="middle">0.6</text>
<text transform="translate(938.10,1478.8) scale(0.985,1.05)" font-size="60.3" text-anchor="middle">0.8</text>
<text transform="translate(1668.70,1478.8) scale(0.985,1.05)" font-size="60.3" text-anchor="middle">1.0</text>
<text transform="translate(1120.8,1560.6) scale(1,1.03)" font-size="72.5" text-anchor="middle">Potential (V vs. RHE)</text>
<text transform="translate(101.8,671) rotate(-90) scale(1,1.03)" font-size="72.5" text-anchor="middle">Current Density (mA/cm<tspan font-size="43" dy="-34.2">2</tspan><tspan dy="34.2" font-size="72.5">)</tspan></text>
<text transform="translate(1630.2,673.5) scale(1,1.03)" font-size="72.5">Fe-N-C-r</text>
<text transform="translate(1630.2,765.0) scale(1,1.03)" font-size="72.5">Fe-N-C-f</text>
<text transform="translate(1630.2,856.5) scale(1,1.03)" font-size="72.5">Fe-N-C-g</text>
<text transform="translate(1630.2,948.0) scale(1,1.03)" font-size="72.5">Pt</text>
<text transform="translate(1630.2,1039.5) scale(1,1.03)" font-size="72.5">FePc</text>
</g>
<line x1="1449" y1="648.4" x2="1609.9" y2="648.4" stroke="#000000" stroke-width="6.8"/>
<rect x="1514.8" y="634.2" width="29" height="29" fill="#000000" stroke="#000000" stroke-width="1" stroke-linejoin="round"/>
<line x1="1449" y1="739.9" x2="1609.9" y2="739.9" stroke="#ff0000" stroke-width="6.8"/>
<circle cx="1529.3" cy="740.1" r="17" fill="#ff0000"/>
<line x1="1449" y1="831.4" x2="1609.9" y2="831.4" stroke="#0000ff" stroke-width="6.8"/>
<path d="M1529.3 808.7L1549.1 843H1509.5Z" fill="#0000ff" stroke="#0000ff" stroke-width="1" stroke-linejoin="round"/>
<line x1="1449" y1="922.9" x2="1609.9" y2="922.9" stroke="#ff00ff" stroke-width="6.8"/>
<path d="M1529.3 946L1549.1 911.7H1509.5Z" fill="#ff00ff" stroke="#ff00ff" stroke-width="1" stroke-linejoin="round"/>
<line x1="1449" y1="1014.4" x2="1609.9" y2="1014.4" stroke="#008000" stroke-width="6.8"/>
<path d="M1529.3 993.4L1550.5 1014.6L1529.3 1035.8L1508 1014.6Z" fill="#008000"/>
</svg>
</body></html>
